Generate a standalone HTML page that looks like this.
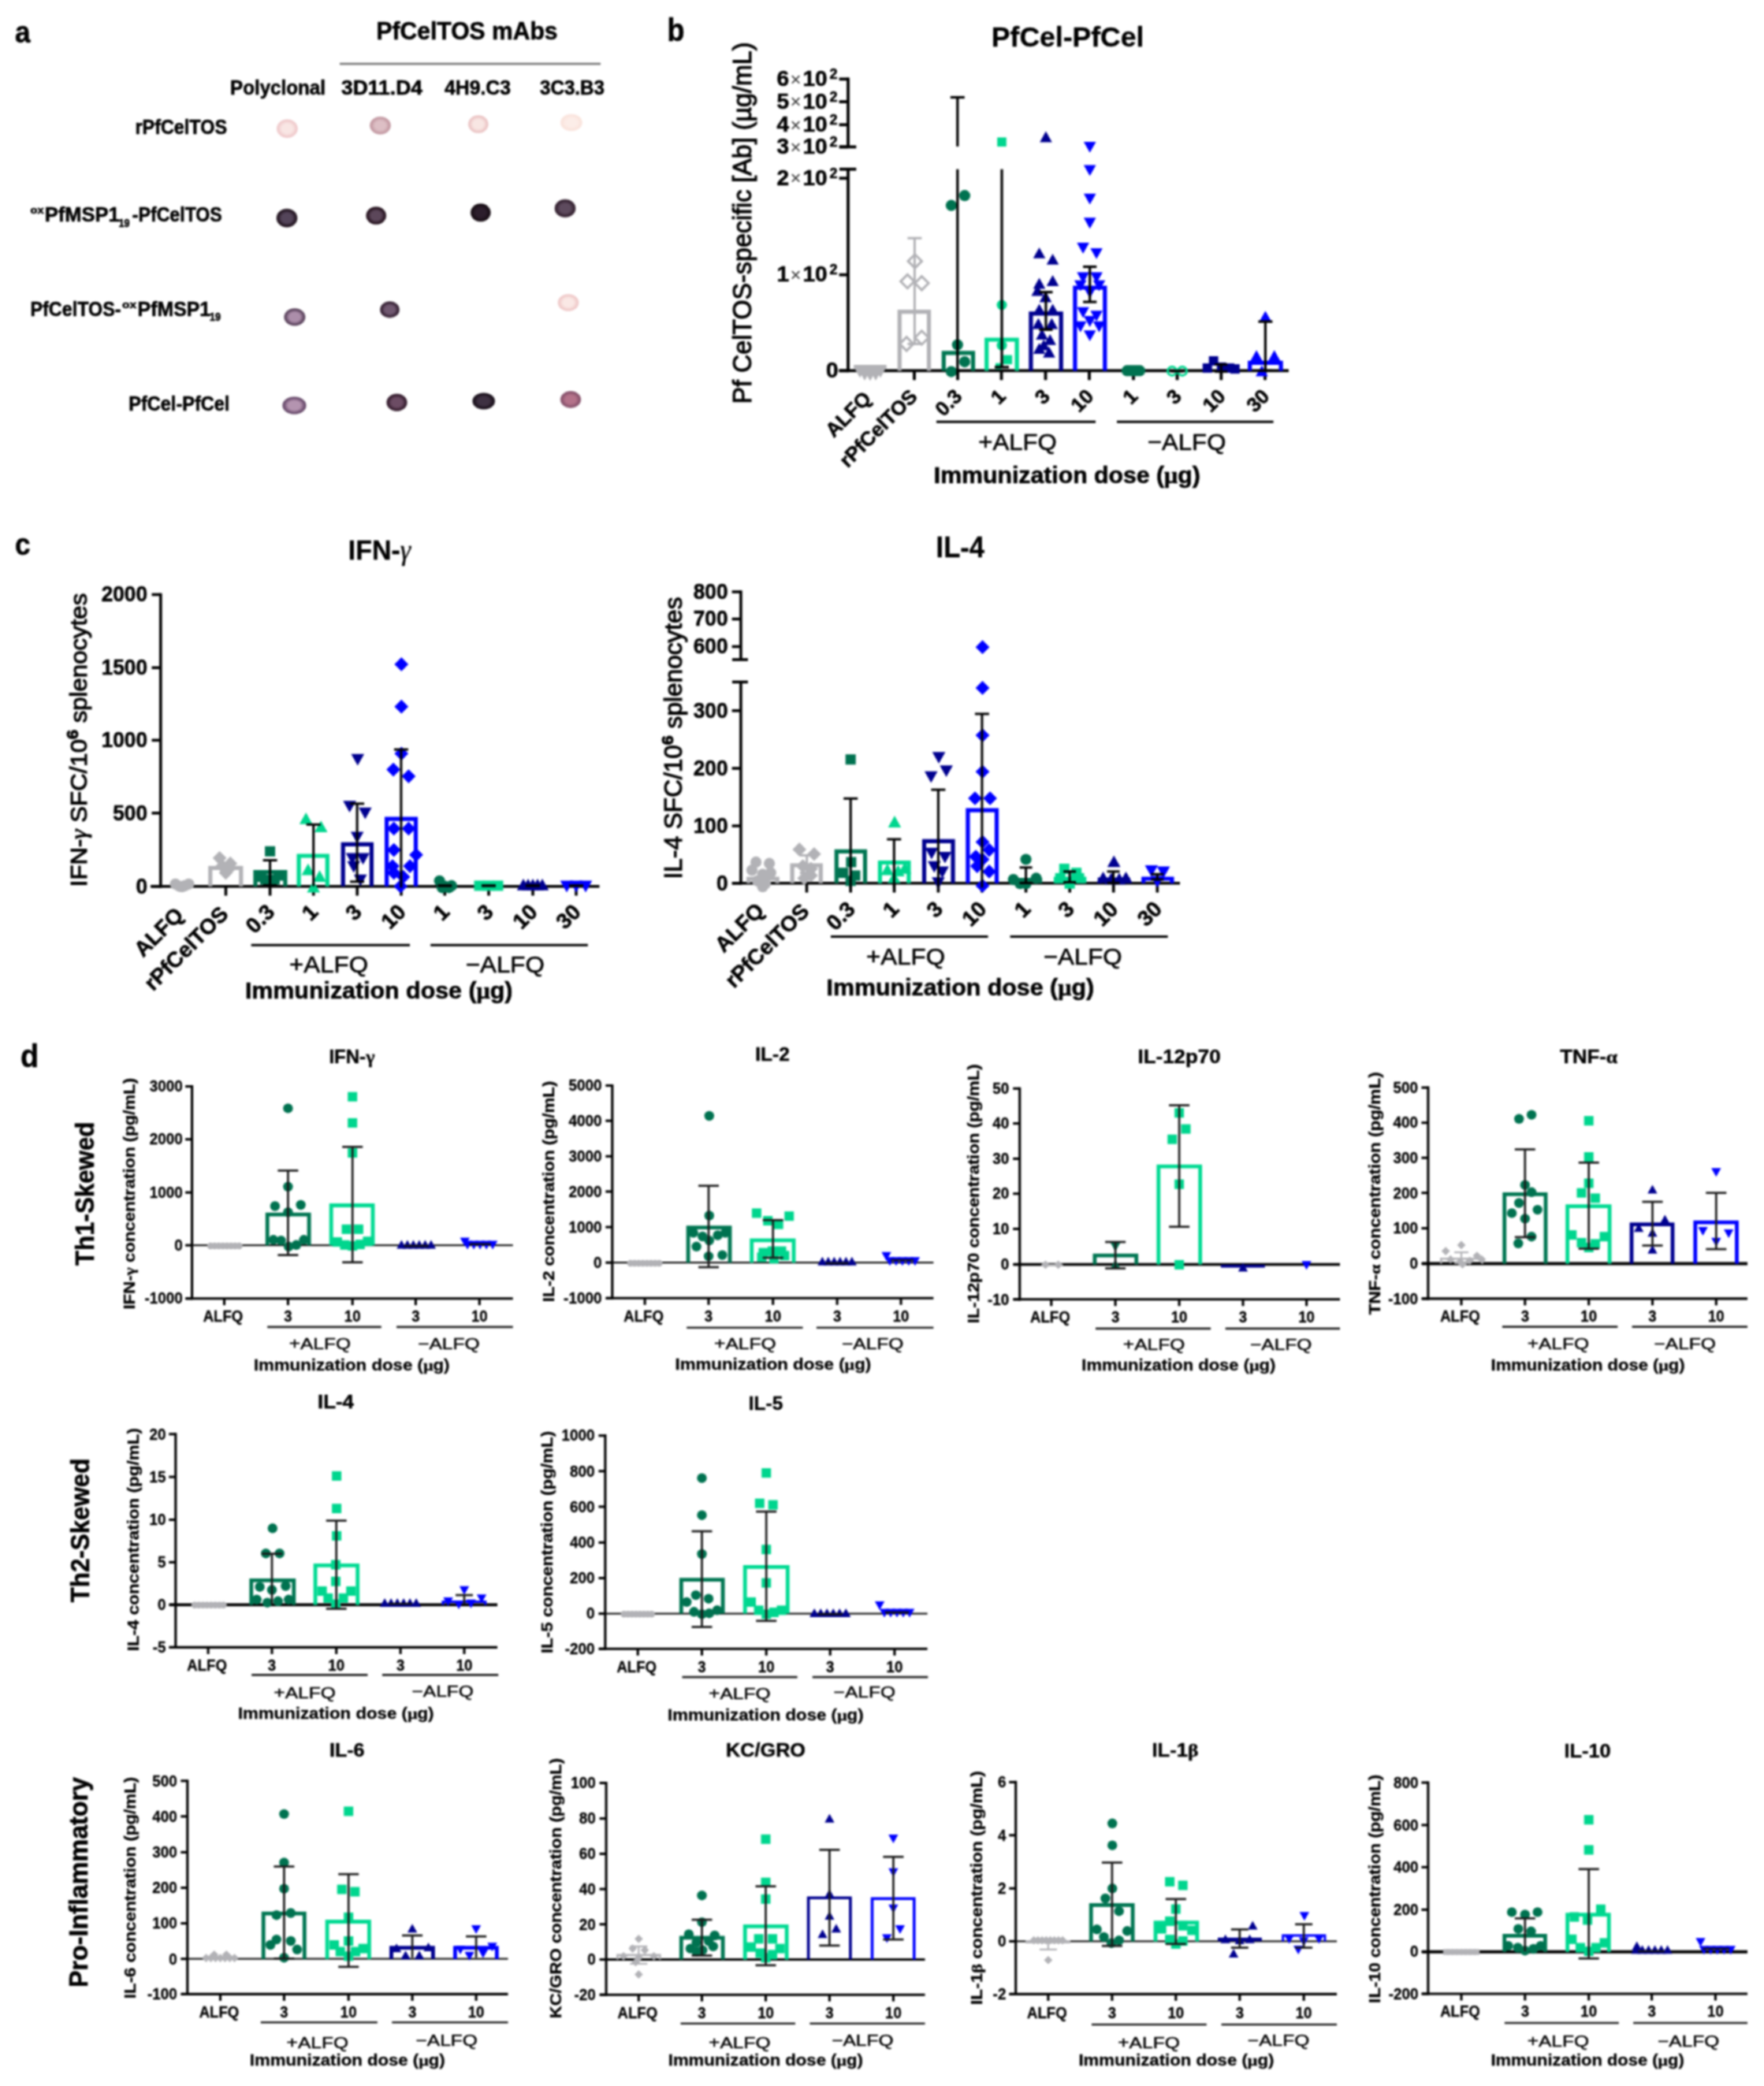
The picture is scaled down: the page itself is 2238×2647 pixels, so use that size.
<!DOCTYPE html>
<html lang="en"><head><meta charset="utf-8"><title>Figure</title>
<style>
html,body{margin:0;padding:0;background:#fff;}
body{width:2238px;height:2647px;overflow:hidden;}
svg{display:block;font-family:"Liberation Sans", sans-serif;filter:blur(0.9px);}
text{stroke:#000;}
</style></head><body>
<svg width="2238" height="2647" viewBox="0 0 2238 2647">
<rect width="2238" height="2647" fill="#fff"/>
<text x="19" y="54" font-size="39.5" text-anchor="start" fill="#000" font-weight="700" textLength="19.5" lengthAdjust="spacingAndGlyphs" stroke-width="0.55">a</text>
<text x="477.5" y="50" font-size="31" text-anchor="start" fill="#000" font-weight="700" textLength="230" lengthAdjust="spacingAndGlyphs" stroke-width="0.55">PfCelTOS mAbs</text>
<line x1="431" y1="81" x2="762" y2="81" stroke="#707070" stroke-width="2.6" stroke-linecap="butt"/>
<text x="292" y="119.5" font-size="25" text-anchor="start" fill="#000" font-weight="700" textLength="121" lengthAdjust="spacingAndGlyphs" stroke-width="0.55">Polyclonal</text>
<text x="433" y="119.5" font-size="25" text-anchor="start" fill="#000" font-weight="700" textLength="103" lengthAdjust="spacingAndGlyphs" stroke-width="0.55">3D11.D4</text>
<text x="564" y="119.5" font-size="25" text-anchor="start" fill="#000" font-weight="700" textLength="84" lengthAdjust="spacingAndGlyphs" stroke-width="0.55">4H9.C3</text>
<text x="685" y="119.5" font-size="25" text-anchor="start" fill="#000" font-weight="700" textLength="82" lengthAdjust="spacingAndGlyphs" stroke-width="0.55">3C3.B3</text>
<text x="171.5" y="170" font-size="25" text-anchor="start" fill="#000" font-weight="700" textLength="116.5" lengthAdjust="spacingAndGlyphs" stroke-width="0.55">rPfCelTOS</text>
<text x="38.5" y="270.5" font-size="13" text-anchor="start" fill="#000" font-weight="700" textLength="17" lengthAdjust="spacingAndGlyphs" stroke-width="0.55">ox</text>
<text x="56.7" y="281" font-size="25" text-anchor="start" fill="#000" font-weight="700" textLength="95" lengthAdjust="spacingAndGlyphs" stroke-width="0.55">PfMSP1</text>
<text x="150.5" y="287.5" font-size="14" text-anchor="start" fill="#000" font-weight="700" textLength="14" lengthAdjust="spacingAndGlyphs" stroke-width="0.55">19</text>
<text x="167.8" y="281" font-size="25" text-anchor="start" fill="#000" font-weight="700" textLength="114" lengthAdjust="spacingAndGlyphs" stroke-width="0.55">-PfCelTOS</text>
<text x="38.5" y="401" font-size="25" text-anchor="start" fill="#000" font-weight="700" textLength="115" lengthAdjust="spacingAndGlyphs" stroke-width="0.55">PfCelTOS-</text>
<text x="155" y="390.5" font-size="13" text-anchor="start" fill="#000" font-weight="700" textLength="18" lengthAdjust="spacingAndGlyphs" stroke-width="0.55">ox</text>
<text x="174.6" y="401" font-size="25" text-anchor="start" fill="#000" font-weight="700" textLength="92.5" lengthAdjust="spacingAndGlyphs" stroke-width="0.55">PfMSP1</text>
<text x="266" y="406.5" font-size="14" text-anchor="start" fill="#000" font-weight="700" textLength="14" lengthAdjust="spacingAndGlyphs" stroke-width="0.55">19</text>
<text x="163.3" y="520.5" font-size="25" text-anchor="start" fill="#000" font-weight="700" textLength="128" lengthAdjust="spacingAndGlyphs" stroke-width="0.55">PfCel-PfCel</text>
<ellipse cx="364.4" cy="163.2" rx="13.6" ry="12.1" fill="#EFC9CB" fill-opacity="0.45"/>
<ellipse cx="364.4" cy="163.2" rx="13" ry="11.5" fill="#EFC9CB"/>
<ellipse cx="364.4" cy="163.2" rx="11.4" ry="10.1" fill="#F2D0D1"/>
<ellipse cx="364.4" cy="163.2" rx="10.1" ry="9" fill="#F4D8D8"/>
<ellipse cx="364.4" cy="163.2" rx="8.8" ry="7.8" fill="#F6DFDE"/>
<ellipse cx="364.4" cy="163.2" rx="7.5" ry="6.7" fill="#F9E6E4"/>
<ellipse cx="482.5" cy="159.3" rx="13.6" ry="11.6" fill="#C399A2" fill-opacity="0.45"/>
<ellipse cx="482.5" cy="159.3" rx="13" ry="11" fill="#C399A2"/>
<ellipse cx="482.5" cy="159.3" rx="11.4" ry="9.7" fill="#CAA2AB"/>
<ellipse cx="482.5" cy="159.3" rx="10.1" ry="8.6" fill="#D0ACB4"/>
<ellipse cx="482.5" cy="159.3" rx="8.8" ry="7.5" fill="#D6B6BC"/>
<ellipse cx="482.5" cy="159.3" rx="7.5" ry="6.4" fill="#DDBFC5"/>
<ellipse cx="606.8" cy="157.6" rx="13.1" ry="11.6" fill="#EBC4C4" fill-opacity="0.45"/>
<ellipse cx="606.8" cy="157.6" rx="12.5" ry="11" fill="#EBC4C4"/>
<ellipse cx="606.8" cy="157.6" rx="11" ry="9.7" fill="#EECCCC"/>
<ellipse cx="606.8" cy="157.6" rx="9.8" ry="8.6" fill="#F2D5D4"/>
<ellipse cx="606.8" cy="157.6" rx="8.5" ry="7.5" fill="#F5DEDB"/>
<ellipse cx="606.8" cy="157.6" rx="7.2" ry="6.4" fill="#F8E6E3"/>
<ellipse cx="724.9" cy="155.5" rx="14.1" ry="11.1" fill="#FAE3DC" fill-opacity="0.45"/>
<ellipse cx="724.9" cy="155.5" rx="13.5" ry="10.5" fill="#FAE3DC"/>
<ellipse cx="724.9" cy="155.5" rx="11.9" ry="9.2" fill="#FAE6DF"/>
<ellipse cx="724.9" cy="155.5" rx="10.5" ry="8.2" fill="#FBE8E2"/>
<ellipse cx="724.9" cy="155.5" rx="9.2" ry="7.1" fill="#FCEAE5"/>
<ellipse cx="724.9" cy="155.5" rx="7.8" ry="6.1" fill="#FCEDE8"/>
<ellipse cx="364" cy="276.7" rx="13.6" ry="12.1" fill="#22141F" fill-opacity="0.45"/>
<ellipse cx="364" cy="276.7" rx="13" ry="11.5" fill="#22141F"/>
<ellipse cx="364" cy="276.7" rx="11.4" ry="10.1" fill="#2E202E"/>
<ellipse cx="364" cy="276.7" rx="10.1" ry="9" fill="#3B2C3C"/>
<ellipse cx="364" cy="276.7" rx="8.8" ry="7.8" fill="#48394B"/>
<ellipse cx="364" cy="276.7" rx="7.5" ry="6.7" fill="#54455A"/>
<ellipse cx="477.2" cy="273.6" rx="13.1" ry="11.6" fill="#26131F" fill-opacity="0.45"/>
<ellipse cx="477.2" cy="273.6" rx="12.5" ry="11" fill="#26131F"/>
<ellipse cx="477.2" cy="273.6" rx="11" ry="9.7" fill="#34202E"/>
<ellipse cx="477.2" cy="273.6" rx="9.8" ry="8.6" fill="#412D3C"/>
<ellipse cx="477.2" cy="273.6" rx="8.5" ry="7.5" fill="#4E3A4B"/>
<ellipse cx="477.2" cy="273.6" rx="7.2" ry="6.4" fill="#5C475A"/>
<ellipse cx="609.8" cy="269.8" rx="13.1" ry="11.8" fill="#170D14" fill-opacity="0.45"/>
<ellipse cx="609.8" cy="269.8" rx="12.5" ry="11.2" fill="#170D14"/>
<ellipse cx="609.8" cy="269.8" rx="11" ry="9.9" fill="#1C111A"/>
<ellipse cx="609.8" cy="269.8" rx="9.8" ry="8.7" fill="#221620"/>
<ellipse cx="609.8" cy="269.8" rx="8.5" ry="7.6" fill="#271A26"/>
<ellipse cx="609.8" cy="269.8" rx="7.2" ry="6.5" fill="#2C1E2C"/>
<ellipse cx="717" cy="264.4" rx="13.6" ry="11.8" fill="#33202F" fill-opacity="0.45"/>
<ellipse cx="717" cy="264.4" rx="13" ry="11.2" fill="#33202F"/>
<ellipse cx="717" cy="264.4" rx="11.4" ry="9.9" fill="#3E2B3B"/>
<ellipse cx="717" cy="264.4" rx="10.1" ry="8.7" fill="#483646"/>
<ellipse cx="717" cy="264.4" rx="8.8" ry="7.6" fill="#534052"/>
<ellipse cx="717" cy="264.4" rx="7.5" ry="6.5" fill="#5E4B5E"/>
<ellipse cx="373.9" cy="402.3" rx="13.8" ry="11.4" fill="#58405A" fill-opacity="0.45"/>
<ellipse cx="373.9" cy="402.3" rx="13.2" ry="10.8" fill="#58405A"/>
<ellipse cx="373.9" cy="402.3" rx="11.6" ry="9.5" fill="#6D546E"/>
<ellipse cx="373.9" cy="402.3" rx="10.3" ry="8.4" fill="#826782"/>
<ellipse cx="373.9" cy="402.3" rx="9" ry="7.3" fill="#977A96"/>
<ellipse cx="373.9" cy="402.3" rx="7.7" ry="6.3" fill="#AC8EAA"/>
<ellipse cx="494.5" cy="392.9" rx="12.6" ry="10.8" fill="#321E30" fill-opacity="0.45"/>
<ellipse cx="494.5" cy="392.9" rx="12" ry="10.2" fill="#321E30"/>
<ellipse cx="494.5" cy="392.9" rx="10.6" ry="9" fill="#422C40"/>
<ellipse cx="494.5" cy="392.9" rx="9.4" ry="8" fill="#513B50"/>
<ellipse cx="494.5" cy="392.9" rx="8.2" ry="6.9" fill="#604A60"/>
<ellipse cx="494.5" cy="392.9" rx="7" ry="5.9" fill="#705870"/>
<ellipse cx="721" cy="384" rx="13.6" ry="11.1" fill="#EFC8C8" fill-opacity="0.45"/>
<ellipse cx="721" cy="384" rx="13" ry="10.5" fill="#EFC8C8"/>
<ellipse cx="721" cy="384" rx="11.4" ry="9.2" fill="#F2D0CF"/>
<ellipse cx="721" cy="384" rx="10.1" ry="8.2" fill="#F4D8D6"/>
<ellipse cx="721" cy="384" rx="8.8" ry="7.1" fill="#F7E0DE"/>
<ellipse cx="721" cy="384" rx="7.5" ry="6.1" fill="#FAE8E5"/>
<ellipse cx="373.4" cy="514.5" rx="15.4" ry="11.4" fill="#67496A" fill-opacity="0.45"/>
<ellipse cx="373.4" cy="514.5" rx="14.8" ry="10.8" fill="#67496A"/>
<ellipse cx="373.4" cy="514.5" rx="13" ry="9.5" fill="#7A5C7C"/>
<ellipse cx="373.4" cy="514.5" rx="11.5" ry="8.4" fill="#8E6E8D"/>
<ellipse cx="373.4" cy="514.5" rx="10.1" ry="7.3" fill="#A1819E"/>
<ellipse cx="373.4" cy="514.5" rx="8.6" ry="6.3" fill="#B494B0"/>
<ellipse cx="503.5" cy="510.7" rx="13.4" ry="11.4" fill="#331B2C" fill-opacity="0.45"/>
<ellipse cx="503.5" cy="510.7" rx="12.8" ry="10.8" fill="#331B2C"/>
<ellipse cx="503.5" cy="510.7" rx="11.3" ry="9.5" fill="#41273A"/>
<ellipse cx="503.5" cy="510.7" rx="10" ry="8.4" fill="#503448"/>
<ellipse cx="503.5" cy="510.7" rx="8.7" ry="7.3" fill="#5E4056"/>
<ellipse cx="503.5" cy="510.7" rx="7.4" ry="6.3" fill="#6C4C64"/>
<ellipse cx="613.7" cy="509" rx="14.6" ry="10.8" fill="#19101A" fill-opacity="0.45"/>
<ellipse cx="613.7" cy="509" rx="14" ry="10.2" fill="#19101A"/>
<ellipse cx="613.7" cy="509" rx="12.3" ry="9" fill="#221824"/>
<ellipse cx="613.7" cy="509" rx="10.9" ry="8" fill="#2C202E"/>
<ellipse cx="613.7" cy="509" rx="9.5" ry="6.9" fill="#352938"/>
<ellipse cx="613.7" cy="509" rx="8.1" ry="5.9" fill="#3E3142"/>
<ellipse cx="724" cy="507" rx="13.4" ry="11" fill="#85506A" fill-opacity="0.45"/>
<ellipse cx="724" cy="507" rx="12.8" ry="10.4" fill="#85506A"/>
<ellipse cx="724" cy="507" rx="11.3" ry="9.2" fill="#915872"/>
<ellipse cx="724" cy="507" rx="10" ry="8.1" fill="#9C617A"/>
<ellipse cx="724" cy="507" rx="8.7" ry="7.1" fill="#A86A82"/>
<ellipse cx="724" cy="507" rx="7.4" ry="6" fill="#B4728A"/>
<text x="846.5" y="52" font-size="41" text-anchor="start" fill="#000" font-weight="700" textLength="22" lengthAdjust="spacingAndGlyphs" stroke-width="0.55">b</text>
<line x1="1076" y1="98.4" x2="1076" y2="186.4" stroke="#000" stroke-width="3.8" stroke-linecap="butt"/>
<line x1="1076" y1="214.7" x2="1076" y2="472.3" stroke="#000" stroke-width="3.8" stroke-linecap="butt"/>
<line x1="1065" y1="186.4" x2="1086.3" y2="186.4" stroke="#000" stroke-width="3.8" stroke-linecap="butt"/>
<line x1="1065" y1="214.7" x2="1086.3" y2="214.7" stroke="#000" stroke-width="3.8" stroke-linecap="butt"/>
<line x1="1064.6" y1="100.3" x2="1076" y2="100.3" stroke="#000" stroke-width="3.8" stroke-linecap="butt"/>
<text font-weight="700" font-size="28" fill="#000" stroke-width="0.55" y="108.8"><tspan x="985.4">6</tspan><tspan x="1002.6" font-weight="400" font-size="24" fill="#3a3a3a" stroke="none" dy="-0.3">×</tspan><tspan x="1018.5" dy="0.3">10</tspan><tspan x="1052.6" dy="-9" font-size="18">2</tspan></text>
<line x1="1064.6" y1="129.1" x2="1076" y2="129.1" stroke="#000" stroke-width="3.8" stroke-linecap="butt"/>
<text font-weight="700" font-size="28" fill="#000" stroke-width="0.55" y="137.6"><tspan x="985.4">5</tspan><tspan x="1002.6" font-weight="400" font-size="24" fill="#3a3a3a" stroke="none" dy="-0.3">×</tspan><tspan x="1018.5" dy="0.3">10</tspan><tspan x="1052.6" dy="-9" font-size="18">2</tspan></text>
<line x1="1064.6" y1="158.3" x2="1076" y2="158.3" stroke="#000" stroke-width="3.8" stroke-linecap="butt"/>
<text font-weight="700" font-size="28" fill="#000" stroke-width="0.55" y="166.8"><tspan x="985.4">4</tspan><tspan x="1002.6" font-weight="400" font-size="24" fill="#3a3a3a" stroke="none" dy="-0.3">×</tspan><tspan x="1018.5" dy="0.3">10</tspan><tspan x="1052.6" dy="-9" font-size="18">2</tspan></text>
<line x1="1064.6" y1="186.4" x2="1076" y2="186.4" stroke="#000" stroke-width="3.8" stroke-linecap="butt"/>
<text font-weight="700" font-size="28" fill="#000" stroke-width="0.55" y="194.9"><tspan x="985.4">3</tspan><tspan x="1002.6" font-weight="400" font-size="24" fill="#3a3a3a" stroke="none" dy="-0.3">×</tspan><tspan x="1018.5" dy="0.3">10</tspan><tspan x="1052.6" dy="-9" font-size="18">2</tspan></text>
<line x1="1064.6" y1="226.2" x2="1076" y2="226.2" stroke="#000" stroke-width="3.8" stroke-linecap="butt"/>
<text font-weight="700" font-size="28" fill="#000" stroke-width="0.55" y="234.7"><tspan x="985.4">2</tspan><tspan x="1002.6" font-weight="400" font-size="24" fill="#3a3a3a" stroke="none" dy="-0.3">×</tspan><tspan x="1018.5" dy="0.3">10</tspan><tspan x="1052.6" dy="-9" font-size="18">2</tspan></text>
<line x1="1064.6" y1="348.7" x2="1076" y2="348.7" stroke="#000" stroke-width="3.8" stroke-linecap="butt"/>
<text font-weight="700" font-size="28" fill="#000" stroke-width="0.55" y="357.2"><tspan x="985.4">1</tspan><tspan x="1002.6" font-weight="400" font-size="24" fill="#3a3a3a" stroke="none" dy="-0.3">×</tspan><tspan x="1018.5" dy="0.3">10</tspan><tspan x="1052.6" dy="-9" font-size="18">2</tspan></text>
<line x1="1064.6" y1="470.4" x2="1076" y2="470.4" stroke="#000" stroke-width="3.8" stroke-linecap="butt"/>
<text x="1063.5" y="478.9" font-size="28" text-anchor="end" fill="#000" font-weight="700" stroke-width="0.55">0</text>
<line x1="1064.5" y1="470.4" x2="1635" y2="470.4" stroke="#000" stroke-width="3.8" stroke-linecap="butt"/>
<line x1="1160" y1="470.4" x2="1160" y2="482.3" stroke="#000" stroke-width="3.8" stroke-linecap="butt"/>
<line x1="1215" y1="470.4" x2="1215" y2="482.3" stroke="#000" stroke-width="3.8" stroke-linecap="butt"/>
<line x1="1270.5" y1="470.4" x2="1270.5" y2="482.3" stroke="#000" stroke-width="3.8" stroke-linecap="butt"/>
<line x1="1326.5" y1="470.4" x2="1326.5" y2="482.3" stroke="#000" stroke-width="3.8" stroke-linecap="butt"/>
<line x1="1382" y1="470.4" x2="1382" y2="482.3" stroke="#000" stroke-width="3.8" stroke-linecap="butt"/>
<line x1="1438" y1="470.4" x2="1438" y2="482.3" stroke="#000" stroke-width="3.8" stroke-linecap="butt"/>
<line x1="1493.5" y1="470.4" x2="1493.5" y2="482.3" stroke="#000" stroke-width="3.8" stroke-linecap="butt"/>
<line x1="1549.3" y1="470.4" x2="1549.3" y2="482.3" stroke="#000" stroke-width="3.8" stroke-linecap="butt"/>
<line x1="1605" y1="470.4" x2="1605" y2="482.3" stroke="#000" stroke-width="3.8" stroke-linecap="butt"/>
<text x="1106.8" y="507.2" font-size="25.5" text-anchor="end" fill="#000" font-weight="700" transform="rotate(-45 1106.8 507.2)" stroke-width="0.55">ALFQ</text>
<text x="1165.3" y="504.7" font-size="25.5" text-anchor="end" fill="#000" font-weight="700" transform="rotate(-45 1165.3 504.7)" stroke-width="0.55">rPfCelTOS</text>
<text x="1222" y="504.4" font-size="25.5" text-anchor="end" fill="#000" font-weight="700" transform="rotate(-45 1222 504.4)" stroke-width="0.55">0.3</text>
<text x="1277.5" y="504.4" font-size="25.5" text-anchor="end" fill="#000" font-weight="700" transform="rotate(-45 1277.5 504.4)" stroke-width="0.55">1</text>
<text x="1333.5" y="504.4" font-size="25.5" text-anchor="end" fill="#000" font-weight="700" transform="rotate(-45 1333.5 504.4)" stroke-width="0.55">3</text>
<text x="1389" y="504.4" font-size="25.5" text-anchor="end" fill="#000" font-weight="700" transform="rotate(-45 1389 504.4)" stroke-width="0.55">10</text>
<text x="1445" y="504.4" font-size="25.5" text-anchor="end" fill="#000" font-weight="700" transform="rotate(-45 1445 504.4)" stroke-width="0.55">1</text>
<text x="1500.5" y="504.4" font-size="25.5" text-anchor="end" fill="#000" font-weight="700" transform="rotate(-45 1500.5 504.4)" stroke-width="0.55">3</text>
<text x="1556.3" y="504.4" font-size="25.5" text-anchor="end" fill="#000" font-weight="700" transform="rotate(-45 1556.3 504.4)" stroke-width="0.55">10</text>
<text x="1612" y="504.4" font-size="25.5" text-anchor="end" fill="#000" font-weight="700" transform="rotate(-45 1612 504.4)" stroke-width="0.55">30</text>
<line x1="1188" y1="535.3" x2="1390" y2="535.3" stroke="#000" stroke-width="3" stroke-linecap="butt"/>
<line x1="1417" y1="535.3" x2="1615.6" y2="535.3" stroke="#000" stroke-width="3" stroke-linecap="butt"/>
<text x="1291" y="570.5" font-size="30" text-anchor="middle" fill="#000" textLength="99.5" lengthAdjust="spacingAndGlyphs" stroke-width="0.55">+ALFQ</text>
<text x="1505.6" y="570.5" font-size="30" text-anchor="middle" fill="#000" textLength="99.5" lengthAdjust="spacingAndGlyphs" stroke-width="0.55">−ALFQ</text>
<text x="1353.8" y="612.8" font-size="29.5" text-anchor="middle" fill="#000" font-weight="700" textLength="338" lengthAdjust="spacingAndGlyphs" stroke-width="0.55">Immunization dose (<tspan font-family='"Liberation Serif", serif'>μ</tspan>g)</text>
<text x="953" y="283" font-size="33" text-anchor="middle" fill="#000" textLength="459" lengthAdjust="spacingAndGlyphs" transform="rotate(-90 953 283)" stroke-width="1.0">Pf CelTOS-specific [Ab] (µg/mL)</text>
<text x="1354.6" y="59.4" font-size="35.3" text-anchor="middle" fill="#000" font-weight="700" textLength="193.5" lengthAdjust="spacingAndGlyphs" stroke-width="0.3">PfCel-PfCel</text>
<path d="M1141.3 470.4V395.6H1178.5V470.4" fill="none" stroke="#B2B2B6" stroke-width="5.2" stroke-linejoin="miter"/>
<path d="M1197.3 470.4V447.8H1234.5V470.4" fill="none" stroke="#007652" stroke-width="5.2" stroke-linejoin="miter"/>
<path d="M1251.7 470.4V431H1290.1V470.4" fill="none" stroke="#00DA92" stroke-width="5.2" stroke-linejoin="miter"/>
<path d="M1307.9 470.4V397.9H1346.2V470.4" fill="none" stroke="#00008F" stroke-width="5.2" stroke-linejoin="miter"/>
<path d="M1363.9 470.4V365H1401.8V470.4" fill="none" stroke="#0000FF" stroke-width="5.2" stroke-linejoin="miter"/>
<path d="M1585.7 470.4V460.3H1625.1V470.4" fill="none" stroke="#0000FF" stroke-width="5.2" stroke-linejoin="miter"/>
<rect x="1083.3" y="463" width="41.3" height="5" fill="#B2B2B6"/>
<path d="M1082.8 464.8L1099.2 464.8L1091 479.4Z" fill="#B2B2B6"/>
<path d="M1089.3 464.8L1105.7 464.8L1097.5 479.4Z" fill="#B2B2B6"/>
<path d="M1095.8 464.8L1112.2 464.8L1104 479.4Z" fill="#B2B2B6"/>
<path d="M1102.3 464.8L1118.7 464.8L1110.5 479.4Z" fill="#B2B2B6"/>
<path d="M1108.8 464.8L1125.2 464.8L1117 479.4Z" fill="#B2B2B6"/>
<path d="M1088.8 468.3L1105.2 468.3L1097 482.9Z" fill="#B2B2B6"/>
<path d="M1095.8 468.8L1112.2 468.8L1104 483.4Z" fill="#B2B2B6"/>
<path d="M1102.8 468.3L1119.2 468.3L1111 482.9Z" fill="#B2B2B6"/>
<line x1="1160.4" y1="302.2" x2="1160.4" y2="436.4" stroke="#B2B2B6" stroke-width="3" stroke-linecap="butt"/>
<line x1="1151.4" y1="302.2" x2="1169.4" y2="302.2" stroke="#B2B2B6" stroke-width="3" stroke-linecap="butt"/>
<line x1="1151.4" y1="436.4" x2="1169.4" y2="436.4" stroke="#B2B2B6" stroke-width="3" stroke-linecap="butt"/>
<path d="M1152.1 331.4L1160.8 322.8L1169.5 331.4L1160.8 340.1Z" fill="#fff" fill-opacity="0.0" stroke="#B2B2B6" stroke-width="3"/>
<path d="M1142.6 357.1L1151.3 348.4L1160 357.1L1151.3 365.7Z" fill="#fff" fill-opacity="0.0" stroke="#B2B2B6" stroke-width="3"/>
<path d="M1160.8 359.3L1169.4 350.6L1178.1 359.3L1169.4 368Z" fill="#fff" fill-opacity="0.0" stroke="#B2B2B6" stroke-width="3"/>
<path d="M1141.5 436.4L1150.2 427.7L1158.8 436.4L1150.2 445.1Z" fill="#fff" fill-opacity="0.0" stroke="#B2B2B6" stroke-width="3"/>
<path d="M1160.8 428.5L1169.4 419.8L1178.1 428.5L1169.4 437.2Z" fill="#fff" fill-opacity="0.0" stroke="#B2B2B6" stroke-width="3"/>
<circle cx="1206.9" cy="260.7" r="7.1" fill="#007250"/>
<circle cx="1223.9" cy="248.2" r="7.1" fill="#007250"/>
<circle cx="1214.8" cy="437.6" r="7.1" fill="#007250"/>
<circle cx="1223.9" cy="459.1" r="7.1" fill="#007250"/>
<circle cx="1206.9" cy="471.6" r="7.1" fill="#007250"/>
<line x1="1214.8" y1="123.5" x2="1214.8" y2="185.9" stroke="#000" stroke-width="3.2" stroke-linecap="butt"/>
<line x1="1205.8" y1="123.5" x2="1223.8" y2="123.5" stroke="#000" stroke-width="3.2" stroke-linecap="butt"/>
<line x1="1214.8" y1="214.7" x2="1214.8" y2="476.1" stroke="#000" stroke-width="3.2" stroke-linecap="butt"/>
<rect x="1265.2" y="174.4" width="11.6" height="11.6" fill="#00D68E"/>
<circle cx="1271" cy="387" r="6.5" fill="#00D68E"/>
<circle cx="1271" cy="438.2" r="6.5" fill="#00D68E"/>
<rect x="1272.5" y="450.6" width="11.6" height="11.6" fill="#00D68E"/>
<rect x="1263" y="460.8" width="7.8" height="7.8" fill="#00D68E"/>
<line x1="1271" y1="214.7" x2="1271" y2="465.9" stroke="#000" stroke-width="3.2" stroke-linecap="butt"/>
<line x1="1262" y1="465.9" x2="1280" y2="465.9" stroke="#000" stroke-width="3.2" stroke-linecap="butt"/>
<path d="M1319.2 180.4L1334.7 180.4L1326.9 166.5Z" fill="#00008F"/>
<path d="M1310.8 327.8L1326.3 327.8L1318.5 313.9Z" fill="#00008F"/>
<path d="M1327.8 335.7L1343.3 335.7L1335.6 321.9Z" fill="#00008F"/>
<path d="M1310.8 366.4L1326.3 366.4L1318.5 352.5Z" fill="#00008F"/>
<path d="M1327.8 363L1343.3 363L1335.6 349.1Z" fill="#00008F"/>
<path d="M1308.5 375.4L1324.1 375.4L1316.3 361.5Z" fill="#00008F"/>
<path d="M1318.7 383.4L1334.3 383.4L1326.5 369.5Z" fill="#00008F"/>
<path d="M1310.8 399.2L1326.3 399.2L1318.5 385.4Z" fill="#00008F"/>
<path d="M1327.8 399.2L1343.3 399.2L1335.6 385.4Z" fill="#00008F"/>
<path d="M1309.6 417.4L1325.2 417.4L1317.4 403.5Z" fill="#00008F"/>
<path d="M1326.6 417.4L1342.2 417.4L1334.4 403.5Z" fill="#00008F"/>
<path d="M1314.2 431L1329.7 431L1322 417.1Z" fill="#00008F"/>
<path d="M1324.4 437.8L1339.9 437.8L1332.2 423.9Z" fill="#00008F"/>
<path d="M1310.8 449.1L1326.3 449.1L1318.5 435.2Z" fill="#00008F"/>
<path d="M1323.2 453.7L1338.8 453.7L1331 439.8Z" fill="#00008F"/>
<path d="M1316.4 444.6L1332 444.6L1324.2 430.7Z" fill="#00008F"/>
<line x1="1326.9" y1="370.7" x2="1326.9" y2="418.3" stroke="#000" stroke-width="3.2" stroke-linecap="butt"/>
<line x1="1318.3" y1="370.7" x2="1335.5" y2="370.7" stroke="#000" stroke-width="3.2" stroke-linecap="butt"/>
<line x1="1318.3" y1="418.3" x2="1335.5" y2="418.3" stroke="#000" stroke-width="3.2" stroke-linecap="butt"/>
<path d="M1374.9 179.9L1390.5 179.9L1382.7 193.8Z" fill="#0000FF"/>
<path d="M1374.9 209.4L1390.5 209.4L1382.7 223.3Z" fill="#0000FF"/>
<path d="M1374.9 245.7L1390.5 245.7L1382.7 259.6Z" fill="#0000FF"/>
<path d="M1374.9 276.3L1390.5 276.3L1382.7 290.2Z" fill="#0000FF"/>
<path d="M1366.3 308.1L1381.9 308.1L1374.1 322Z" fill="#0000FF"/>
<path d="M1383.3 314.9L1398.9 314.9L1391.1 328.8Z" fill="#0000FF"/>
<path d="M1366.3 345.5L1381.9 345.5L1374.1 359.4Z" fill="#0000FF"/>
<path d="M1383.3 345.5L1398.9 345.5L1391.1 359.4Z" fill="#0000FF"/>
<path d="M1362.9 355.7L1378.5 355.7L1370.7 369.6Z" fill="#0000FF"/>
<path d="M1386.7 355.7L1402.3 355.7L1394.5 369.6Z" fill="#0000FF"/>
<path d="M1374.9 364.8L1390.5 364.8L1382.7 378.6Z" fill="#0000FF"/>
<path d="M1366.3 389.7L1381.9 389.7L1374.1 403.6Z" fill="#0000FF"/>
<path d="M1383.3 394.2L1398.9 394.2L1391.1 408.1Z" fill="#0000FF"/>
<path d="M1374.9 401L1390.5 401L1382.7 414.9Z" fill="#0000FF"/>
<path d="M1362.9 407.8L1378.5 407.8L1370.7 421.7Z" fill="#0000FF"/>
<path d="M1386.7 407.8L1402.3 407.8L1394.5 421.7Z" fill="#0000FF"/>
<path d="M1374.9 419.2L1390.5 419.2L1382.7 433.1Z" fill="#0000FF"/>
<line x1="1382.7" y1="338.5" x2="1382.7" y2="383.1" stroke="#000" stroke-width="3.2" stroke-linecap="butt"/>
<line x1="1374.1" y1="338.5" x2="1391.3" y2="338.5" stroke="#000" stroke-width="3.2" stroke-linecap="butt"/>
<line x1="1374.1" y1="383.1" x2="1391.3" y2="383.1" stroke="#000" stroke-width="3.2" stroke-linecap="butt"/>
<circle cx="1430" cy="470.4" r="7.1" fill="#007250"/>
<circle cx="1438" cy="470.4" r="7.1" fill="#007250"/>
<circle cx="1446" cy="470.4" r="7.1" fill="#007250"/>
<circle cx="1434" cy="470.4" r="7.1" fill="#007250"/>
<circle cx="1442" cy="470.4" r="7.1" fill="#007250"/>
<circle cx="1487" cy="470.9" r="5.5" fill="none" stroke="#00D68E" stroke-width="3"/>
<circle cx="1500" cy="470.9" r="5.5" fill="none" stroke="#00D68E" stroke-width="3"/>
<line x1="1485.5" y1="470.9" x2="1501.5" y2="470.9" stroke="#000" stroke-width="3.5" stroke-linecap="butt"/>
<rect x="1533.7" y="452" width="11.9" height="11.9" fill="#00008F"/>
<rect x="1525.8" y="461.1" width="11.9" height="11.9" fill="#00008F"/>
<rect x="1543.9" y="460" width="11.9" height="11.9" fill="#00008F"/>
<rect x="1554.1" y="461.1" width="11.9" height="11.9" fill="#00008F"/>
<rect x="1560.9" y="462.2" width="11.9" height="11.9" fill="#00008F"/>
<line x1="1549.2" y1="462.5" x2="1549.2" y2="471.6" stroke="#000" stroke-width="3" stroke-linecap="butt"/>
<line x1="1541.2" y1="462.5" x2="1557.2" y2="462.5" stroke="#000" stroke-width="3" stroke-linecap="butt"/>
<line x1="1541.2" y1="471.6" x2="1557.2" y2="471.6" stroke="#000" stroke-width="3" stroke-linecap="butt"/>
<path d="M1597.6 408.3L1613.2 408.3L1605.4 394.4Z" fill="#0000FF"/>
<path d="M1586.3 458.2L1601.8 458.2L1594.1 444.3Z" fill="#0000FF"/>
<path d="M1609 458.2L1624.5 458.2L1616.7 444.3Z" fill="#0000FF"/>
<path d="M1593.1 477.5L1608.6 477.5L1600.9 463.6Z" fill="#0000FF"/>
<line x1="1605.4" y1="408.1" x2="1605.4" y2="470.4" stroke="#000" stroke-width="3.2" stroke-linecap="butt"/>
<line x1="1596.4" y1="408.1" x2="1614.4" y2="408.1" stroke="#000" stroke-width="3.2" stroke-linecap="butt"/>
<line x1="1596.4" y1="470.4" x2="1614.4" y2="470.4" stroke="#000" stroke-width="3.2" stroke-linecap="butt"/>
<text x="19" y="704" font-size="39.5" text-anchor="start" fill="#000" font-weight="700" textLength="19.5" lengthAdjust="spacingAndGlyphs" stroke-width="0.55">c</text>
<line x1="203.8" y1="752.7" x2="203.8" y2="1126.5" stroke="#000" stroke-width="3.6" stroke-linecap="butt"/>
<line x1="192.5" y1="754.5" x2="203.8" y2="754.5" stroke="#000" stroke-width="3.6" stroke-linecap="butt"/>
<text x="187" y="763.2" font-size="28.3" text-anchor="end" fill="#000" font-weight="700" textLength="58.3" lengthAdjust="spacingAndGlyphs" stroke-width="0.55">2000</text>
<line x1="192.5" y1="847.3" x2="203.8" y2="847.3" stroke="#000" stroke-width="3.6" stroke-linecap="butt"/>
<text x="187" y="856" font-size="28.3" text-anchor="end" fill="#000" font-weight="700" textLength="58.3" lengthAdjust="spacingAndGlyphs" stroke-width="0.55">1500</text>
<line x1="192.5" y1="939.3" x2="203.8" y2="939.3" stroke="#000" stroke-width="3.6" stroke-linecap="butt"/>
<text x="187" y="948" font-size="28.3" text-anchor="end" fill="#000" font-weight="700" textLength="58.3" lengthAdjust="spacingAndGlyphs" stroke-width="0.55">1000</text>
<line x1="192.5" y1="1031.8" x2="203.8" y2="1031.8" stroke="#000" stroke-width="3.6" stroke-linecap="butt"/>
<text x="187" y="1040.5" font-size="28.3" text-anchor="end" fill="#000" font-weight="700" textLength="43.7" lengthAdjust="spacingAndGlyphs" stroke-width="0.55">500</text>
<line x1="192.5" y1="1124.7" x2="203.8" y2="1124.7" stroke="#000" stroke-width="3.6" stroke-linecap="butt"/>
<text x="187" y="1133.5" font-size="28.3" text-anchor="end" fill="#000" font-weight="700" textLength="14.6" lengthAdjust="spacingAndGlyphs" stroke-width="0.55">0</text>
<line x1="191" y1="1124.7" x2="760.5" y2="1124.7" stroke="#000" stroke-width="3.6" stroke-linecap="butt"/>
<line x1="286.5" y1="1124.7" x2="286.5" y2="1136.5" stroke="#000" stroke-width="3.6" stroke-linecap="butt"/>
<line x1="342.6" y1="1124.7" x2="342.6" y2="1136.5" stroke="#000" stroke-width="3.6" stroke-linecap="butt"/>
<line x1="397.7" y1="1124.7" x2="397.7" y2="1136.5" stroke="#000" stroke-width="3.6" stroke-linecap="butt"/>
<line x1="453.2" y1="1124.7" x2="453.2" y2="1136.5" stroke="#000" stroke-width="3.6" stroke-linecap="butt"/>
<line x1="509" y1="1124.7" x2="509" y2="1136.5" stroke="#000" stroke-width="3.6" stroke-linecap="butt"/>
<line x1="564.3" y1="1124.7" x2="564.3" y2="1136.5" stroke="#000" stroke-width="3.6" stroke-linecap="butt"/>
<line x1="620" y1="1124.7" x2="620" y2="1136.5" stroke="#000" stroke-width="3.6" stroke-linecap="butt"/>
<line x1="676" y1="1124.7" x2="676" y2="1136.5" stroke="#000" stroke-width="3.6" stroke-linecap="butt"/>
<line x1="731" y1="1124.7" x2="731" y2="1136.5" stroke="#000" stroke-width="3.6" stroke-linecap="butt"/>
<text x="234.4" y="1162.9" font-size="27.5" text-anchor="end" fill="#000" font-weight="700" transform="rotate(-45 234.4 1162.9)" stroke-width="0.55">ALFQ</text>
<text x="291.2" y="1161.6" font-size="27.5" text-anchor="end" fill="#000" font-weight="700" transform="rotate(-45 291.2 1161.6)" stroke-width="0.55">rPfCelTOS</text>
<text x="350.1" y="1158.9" font-size="27.5" text-anchor="end" fill="#000" font-weight="700" transform="rotate(-45 350.1 1158.9)" stroke-width="0.55">0.3</text>
<text x="405.2" y="1158.9" font-size="27.5" text-anchor="end" fill="#000" font-weight="700" transform="rotate(-45 405.2 1158.9)" stroke-width="0.55">1</text>
<text x="460.7" y="1158.9" font-size="27.5" text-anchor="end" fill="#000" font-weight="700" transform="rotate(-45 460.7 1158.9)" stroke-width="0.55">3</text>
<text x="516.5" y="1158.9" font-size="27.5" text-anchor="end" fill="#000" font-weight="700" transform="rotate(-45 516.5 1158.9)" stroke-width="0.55">10</text>
<text x="571.8" y="1158.9" font-size="27.5" text-anchor="end" fill="#000" font-weight="700" transform="rotate(-45 571.8 1158.9)" stroke-width="0.55">1</text>
<text x="627.5" y="1158.9" font-size="27.5" text-anchor="end" fill="#000" font-weight="700" transform="rotate(-45 627.5 1158.9)" stroke-width="0.55">3</text>
<text x="683.5" y="1158.9" font-size="27.5" text-anchor="end" fill="#000" font-weight="700" transform="rotate(-45 683.5 1158.9)" stroke-width="0.55">10</text>
<text x="738.5" y="1158.9" font-size="27.5" text-anchor="end" fill="#000" font-weight="700" transform="rotate(-45 738.5 1158.9)" stroke-width="0.55">30</text>
<line x1="318.7" y1="1199.2" x2="520" y2="1199.2" stroke="#000" stroke-width="3" stroke-linecap="butt"/>
<line x1="546.2" y1="1199.2" x2="745.8" y2="1199.2" stroke="#000" stroke-width="3" stroke-linecap="butt"/>
<text x="417" y="1233.7" font-size="29.5" text-anchor="middle" fill="#000" textLength="100" lengthAdjust="spacingAndGlyphs" stroke-width="0.55">+ALFQ</text>
<text x="640.8" y="1233.7" font-size="29.5" text-anchor="middle" fill="#000" textLength="100" lengthAdjust="spacingAndGlyphs" stroke-width="0.55">−ALFQ</text>
<text x="480.7" y="1266.5" font-size="29.5" text-anchor="middle" fill="#000" font-weight="700" textLength="339.6" lengthAdjust="spacingAndGlyphs" stroke-width="0.55">Immunization dose (<tspan font-family='"Liberation Serif", serif'>μ</tspan>g)</text>
<text x="109.6" y="939" font-size="30.3" text-anchor="middle" fill="#000" textLength="372.5" lengthAdjust="spacingAndGlyphs" transform="rotate(-90 109.6 939)" stroke-width="1.0">IFN-<tspan font-family='"Liberation Serif", serif' font-weight='400' font-style='italic'>γ</tspan> SFC/10<tspan dy="-11" font-size="21" font-weight="700">6</tspan><tspan dy="11"> splenocytes</tspan></text>
<text x="481.5" y="709.6" font-size="35.5" text-anchor="middle" fill="#000" font-weight="700" textLength="79.5" lengthAdjust="spacingAndGlyphs" stroke-width="0.3">IFN-<tspan font-family='"Liberation Serif", serif' font-weight='400' font-style='italic'>γ</tspan></text>
<path d="M266.8 1124.7V1101.4H305.8V1124.7" fill="none" stroke="#B2B2B6" stroke-width="5.2" stroke-linejoin="miter"/>
<path d="M324 1124.7V1106.5H361.9V1124.7" fill="none" stroke="#007652" stroke-width="5.2" stroke-linejoin="miter"/>
<path d="M379.1 1124.7V1086H415.3V1124.7" fill="none" stroke="#00DA92" stroke-width="5.2" stroke-linejoin="miter"/>
<path d="M435.2 1124.7V1071.4H471.4V1124.7" fill="none" stroke="#00008F" stroke-width="5.2" stroke-linejoin="miter"/>
<path d="M490.6 1124.7V1039.1H527.5V1124.7" fill="none" stroke="#0000FF" stroke-width="5.2" stroke-linejoin="miter"/>
<circle cx="222.5" cy="1121.8" r="7.1" fill="#B2B2B6"/>
<circle cx="231" cy="1125.2" r="7.1" fill="#B2B2B6"/>
<circle cx="239.5" cy="1121.8" r="7.1" fill="#B2B2B6"/>
<circle cx="227.6" cy="1124.6" r="7.1" fill="#B2B2B6"/>
<circle cx="234.4" cy="1123.9" r="7.1" fill="#B2B2B6"/>
<path d="M269.8 1088.8L278.6 1080L287.5 1088.8L278.6 1097.7Z" fill="#B2B2B6"/>
<path d="M283.4 1095.7L292.2 1086.8L301.1 1095.7L292.2 1104.5Z" fill="#B2B2B6"/>
<path d="M277.6 1107.6L286.5 1098.7L295.3 1107.6L286.5 1116.4Z" fill="#B2B2B6"/>
<path d="M273.2 1099.1L282 1090.2L290.9 1099.1L282 1107.9Z" fill="#B2B2B6"/>
<path d="M281.7 1102.5L290.5 1093.6L299.4 1102.5L290.5 1111.3Z" fill="#B2B2B6"/>
<rect x="336.1" y="1073.8" width="13" height="13" fill="#007250"/>
<rect x="324.9" y="1106.2" width="13" height="13" fill="#007250"/>
<rect x="347" y="1104.5" width="13" height="13" fill="#007250"/>
<rect x="336.1" y="1111.3" width="13" height="13" fill="#007250"/>
<rect x="330" y="1109.6" width="13" height="13" fill="#007250"/>
<rect x="341.9" y="1109.6" width="13" height="13" fill="#007250"/>
<line x1="342.6" y1="1091.6" x2="342.6" y2="1123.5" stroke="#000" stroke-width="3" stroke-linecap="butt"/>
<line x1="333.6" y1="1091.6" x2="351.6" y2="1091.6" stroke="#000" stroke-width="3" stroke-linecap="butt"/>
<line x1="333.6" y1="1123.5" x2="351.6" y2="1123.5" stroke="#000" stroke-width="3" stroke-linecap="butt"/>
<path d="M379.9 1045.8L396.4 1045.8L388.2 1031Z" fill="#00D68E"/>
<path d="M398.9 1056L415.5 1056L407.2 1041.2Z" fill="#00D68E"/>
<path d="M382.6 1110.4L399.2 1110.4L390.9 1095.7Z" fill="#00D68E"/>
<path d="M397.2 1118.9L413.8 1118.9L405.5 1104.2Z" fill="#00D68E"/>
<path d="M389.4 1132.5L406 1132.5L397.7 1117.8Z" fill="#00D68E"/>
<line x1="397.7" y1="1046.3" x2="397.7" y2="1124.6" stroke="#000" stroke-width="3" stroke-linecap="butt"/>
<line x1="388.7" y1="1046.3" x2="406.7" y2="1046.3" stroke="#000" stroke-width="3" stroke-linecap="butt"/>
<path d="M445.5 956.7L462.1 956.7L453.8 971.5Z" fill="#00008F"/>
<path d="M435.3 1016.2L451.9 1016.2L443.6 1031Z" fill="#00008F"/>
<path d="M455.1 1024.7L471.6 1024.7L463.3 1039.5Z" fill="#00008F"/>
<path d="M444.9 1055.4L461.4 1055.4L453.1 1070.1Z" fill="#00008F"/>
<path d="M438.7 1082.6L455.3 1082.6L447 1097.3Z" fill="#00008F"/>
<path d="M452.3 1082.6L468.9 1082.6L460.6 1097.3Z" fill="#00008F"/>
<path d="M440.4 1092.8L457 1092.8L448.7 1107.6Z" fill="#00008F"/>
<path d="M448.9 1109.8L465.5 1109.8L457.2 1124.6Z" fill="#00008F"/>
<line x1="453.1" y1="1019.8" x2="453.1" y2="1118.8" stroke="#000" stroke-width="3" stroke-linecap="butt"/>
<line x1="444.1" y1="1019.8" x2="462.1" y2="1019.8" stroke="#000" stroke-width="3" stroke-linecap="butt"/>
<line x1="444.1" y1="1118.8" x2="462.1" y2="1118.8" stroke="#000" stroke-width="3" stroke-linecap="butt"/>
<path d="M500.4 842.9L509.3 834.1L518.1 842.9L509.3 851.7Z" fill="#0000FF"/>
<path d="M500.4 896.7L509.3 887.8L518.1 896.7L509.3 905.5Z" fill="#0000FF"/>
<path d="M500.4 956.2L509.3 947.4L518.1 956.2L509.3 965Z" fill="#0000FF"/>
<path d="M490.2 976.6L499.1 967.8L507.9 976.6L499.1 985.4Z" fill="#0000FF"/>
<path d="M509.6 985.1L518.4 976.3L527.3 985.1L518.4 993.9Z" fill="#0000FF"/>
<path d="M490.9 1051.4L499.7 1042.6L508.6 1051.4L499.7 1060.3Z" fill="#0000FF"/>
<path d="M509.6 1051.4L518.4 1042.6L527.3 1051.4L518.4 1060.3Z" fill="#0000FF"/>
<path d="M490.9 1078.6L499.7 1069.8L508.6 1078.6L499.7 1087.5Z" fill="#0000FF"/>
<path d="M519.1 1084.8L528 1075.9L536.8 1084.8L528 1093.6Z" fill="#0000FF"/>
<path d="M489.2 1099.1L498 1090.2L506.9 1099.1L498 1107.9Z" fill="#0000FF"/>
<path d="M511.3 1099.1L520.1 1090.2L529 1099.1L520.1 1107.9Z" fill="#0000FF"/>
<path d="M490.9 1107.6L499.7 1098.7L508.6 1107.6L499.7 1116.4Z" fill="#0000FF"/>
<path d="M502.8 1112.7L511.6 1103.8L520.5 1112.7L511.6 1121.5Z" fill="#0000FF"/>
<path d="M499.4 1124.6L508.2 1115.7L517.1 1124.6L508.2 1133.4Z" fill="#0000FF"/>
<line x1="508.9" y1="951.1" x2="508.9" y2="1126.3" stroke="#000" stroke-width="3" stroke-linecap="butt"/>
<line x1="499.9" y1="951.1" x2="517.9" y2="951.1" stroke="#000" stroke-width="3" stroke-linecap="butt"/>
<circle cx="557.6" cy="1117.8" r="7.1" fill="#007250"/>
<circle cx="564.4" cy="1124.6" r="7.1" fill="#007250"/>
<circle cx="572.9" cy="1123.9" r="7.1" fill="#007250"/>
<circle cx="561" cy="1126.3" r="7.1" fill="#007250"/>
<circle cx="569.5" cy="1126.3" r="7.1" fill="#007250"/>
<rect x="601.5" y="1117.4" width="13" height="13" fill="#00D68E"/>
<rect x="613.5" y="1117.4" width="13" height="13" fill="#00D68E"/>
<rect x="625.5" y="1117.4" width="13" height="13" fill="#00D68E"/>
<path d="M655.7 1129.8L672.3 1129.8L664 1115Z" fill="#00008F"/>
<path d="M667.7 1129.8L684.3 1129.8L676 1115Z" fill="#00008F"/>
<path d="M679.7 1129.8L696.3 1129.8L688 1115Z" fill="#00008F"/>
<path d="M661.7 1129.8L678.3 1129.8L670 1115Z" fill="#00008F"/>
<path d="M673.7 1129.8L690.3 1129.8L682 1115Z" fill="#00008F"/>
<path d="M710.7 1117.6L727.3 1117.6L719 1132.4Z" fill="#0000FF"/>
<path d="M722.7 1117.6L739.3 1117.6L731 1132.4Z" fill="#0000FF"/>
<path d="M734.7 1117.6L751.3 1117.6L743 1132.4Z" fill="#0000FF"/>
<line x1="555.3" y1="1123.9" x2="573.3" y2="1123.9" stroke="#000" stroke-width="3.5" stroke-linecap="butt"/>
<line x1="611" y1="1123.9" x2="629" y2="1123.9" stroke="#000" stroke-width="3.5" stroke-linecap="butt"/>
<line x1="667" y1="1123.9" x2="685" y2="1123.9" stroke="#000" stroke-width="3.5" stroke-linecap="butt"/>
<line x1="722" y1="1123.9" x2="740" y2="1123.9" stroke="#000" stroke-width="3.5" stroke-linecap="butt"/>
<line x1="939.9" y1="749.2" x2="939.9" y2="837" stroke="#000" stroke-width="3.6" stroke-linecap="butt"/>
<line x1="939.9" y1="865.4" x2="939.9" y2="1122.6" stroke="#000" stroke-width="3.6" stroke-linecap="butt"/>
<line x1="928.9" y1="837" x2="948.9" y2="837" stroke="#000" stroke-width="3.6" stroke-linecap="butt"/>
<line x1="928.9" y1="865.4" x2="948.9" y2="865.4" stroke="#000" stroke-width="3.6" stroke-linecap="butt"/>
<line x1="928.6" y1="751" x2="939.9" y2="751" stroke="#000" stroke-width="3.6" stroke-linecap="butt"/>
<text x="923.5" y="759.8" font-size="28.3" text-anchor="end" fill="#000" font-weight="700" textLength="43.7" lengthAdjust="spacingAndGlyphs" stroke-width="0.55">800</text>
<line x1="928.6" y1="785.5" x2="939.9" y2="785.5" stroke="#000" stroke-width="3.6" stroke-linecap="butt"/>
<text x="923.5" y="794.2" font-size="28.3" text-anchor="end" fill="#000" font-weight="700" textLength="43.7" lengthAdjust="spacingAndGlyphs" stroke-width="0.55">700</text>
<line x1="928.6" y1="820.5" x2="939.9" y2="820.5" stroke="#000" stroke-width="3.6" stroke-linecap="butt"/>
<text x="923.5" y="829.2" font-size="28.3" text-anchor="end" fill="#000" font-weight="700" textLength="43.7" lengthAdjust="spacingAndGlyphs" stroke-width="0.55">600</text>
<line x1="928.6" y1="901.8" x2="939.9" y2="901.8" stroke="#000" stroke-width="3.6" stroke-linecap="butt"/>
<text x="923.5" y="910.5" font-size="28.3" text-anchor="end" fill="#000" font-weight="700" textLength="43.7" lengthAdjust="spacingAndGlyphs" stroke-width="0.55">300</text>
<line x1="928.6" y1="975" x2="939.9" y2="975" stroke="#000" stroke-width="3.6" stroke-linecap="butt"/>
<text x="923.5" y="983.8" font-size="28.3" text-anchor="end" fill="#000" font-weight="700" textLength="43.7" lengthAdjust="spacingAndGlyphs" stroke-width="0.55">200</text>
<line x1="928.6" y1="1048" x2="939.9" y2="1048" stroke="#000" stroke-width="3.6" stroke-linecap="butt"/>
<text x="923.5" y="1056.8" font-size="28.3" text-anchor="end" fill="#000" font-weight="700" textLength="43.7" lengthAdjust="spacingAndGlyphs" stroke-width="0.55">100</text>
<line x1="928.6" y1="1120.8" x2="939.9" y2="1120.8" stroke="#000" stroke-width="3.6" stroke-linecap="butt"/>
<text x="923.5" y="1129.5" font-size="28.3" text-anchor="end" fill="#000" font-weight="700" textLength="14.6" lengthAdjust="spacingAndGlyphs" stroke-width="0.55">0</text>
<line x1="929" y1="1120.8" x2="1497" y2="1120.8" stroke="#000" stroke-width="3.6" stroke-linecap="butt"/>
<line x1="1023.5" y1="1120.8" x2="1023.5" y2="1132.6" stroke="#000" stroke-width="3.6" stroke-linecap="butt"/>
<line x1="1079.2" y1="1120.8" x2="1079.2" y2="1132.6" stroke="#000" stroke-width="3.6" stroke-linecap="butt"/>
<line x1="1134.5" y1="1120.8" x2="1134.5" y2="1132.6" stroke="#000" stroke-width="3.6" stroke-linecap="butt"/>
<line x1="1190.4" y1="1120.8" x2="1190.4" y2="1132.6" stroke="#000" stroke-width="3.6" stroke-linecap="butt"/>
<line x1="1245.9" y1="1120.8" x2="1245.9" y2="1132.6" stroke="#000" stroke-width="3.6" stroke-linecap="butt"/>
<line x1="1301.6" y1="1120.8" x2="1301.6" y2="1132.6" stroke="#000" stroke-width="3.6" stroke-linecap="butt"/>
<line x1="1357.2" y1="1120.8" x2="1357.2" y2="1132.6" stroke="#000" stroke-width="3.6" stroke-linecap="butt"/>
<line x1="1412.7" y1="1120.8" x2="1412.7" y2="1132.6" stroke="#000" stroke-width="3.6" stroke-linecap="butt"/>
<line x1="1468.3" y1="1120.8" x2="1468.3" y2="1132.6" stroke="#000" stroke-width="3.6" stroke-linecap="butt"/>
<text x="971.1" y="1157" font-size="27.5" text-anchor="end" fill="#000" font-weight="700" transform="rotate(-45 971.1 1157)" stroke-width="0.55">ALFQ</text>
<text x="1028.2" y="1158.1" font-size="27.5" text-anchor="end" fill="#000" font-weight="700" transform="rotate(-45 1028.2 1158.1)" stroke-width="0.55">rPfCelTOS</text>
<text x="1086.7" y="1155.3" font-size="27.5" text-anchor="end" fill="#000" font-weight="700" transform="rotate(-45 1086.7 1155.3)" stroke-width="0.55">0.3</text>
<text x="1142" y="1155.3" font-size="27.5" text-anchor="end" fill="#000" font-weight="700" transform="rotate(-45 1142 1155.3)" stroke-width="0.55">1</text>
<text x="1197.9" y="1155.3" font-size="27.5" text-anchor="end" fill="#000" font-weight="700" transform="rotate(-45 1197.9 1155.3)" stroke-width="0.55">3</text>
<text x="1253.4" y="1155.3" font-size="27.5" text-anchor="end" fill="#000" font-weight="700" transform="rotate(-45 1253.4 1155.3)" stroke-width="0.55">10</text>
<text x="1309.1" y="1155.3" font-size="27.5" text-anchor="end" fill="#000" font-weight="700" transform="rotate(-45 1309.1 1155.3)" stroke-width="0.55">1</text>
<text x="1364.7" y="1155.3" font-size="27.5" text-anchor="end" fill="#000" font-weight="700" transform="rotate(-45 1364.7 1155.3)" stroke-width="0.55">3</text>
<text x="1420.2" y="1155.3" font-size="27.5" text-anchor="end" fill="#000" font-weight="700" transform="rotate(-45 1420.2 1155.3)" stroke-width="0.55">10</text>
<text x="1475.8" y="1155.3" font-size="27.5" text-anchor="end" fill="#000" font-weight="700" transform="rotate(-45 1475.8 1155.3)" stroke-width="0.55">30</text>
<line x1="1054" y1="1188.5" x2="1253.5" y2="1188.5" stroke="#000" stroke-width="3" stroke-linecap="butt"/>
<line x1="1281.6" y1="1188.5" x2="1481.6" y2="1188.5" stroke="#000" stroke-width="3" stroke-linecap="butt"/>
<text x="1149" y="1223.7" font-size="29.5" text-anchor="middle" fill="#000" textLength="100" lengthAdjust="spacingAndGlyphs" stroke-width="0.55">+ALFQ</text>
<text x="1373.7" y="1223.7" font-size="29.5" text-anchor="middle" fill="#000" textLength="100" lengthAdjust="spacingAndGlyphs" stroke-width="0.55">−ALFQ</text>
<text x="1218.3" y="1262.5" font-size="29.5" text-anchor="middle" fill="#000" font-weight="700" textLength="339.6" lengthAdjust="spacingAndGlyphs" stroke-width="0.55">Immunization dose (<tspan font-family='"Liberation Serif", serif'>μ</tspan>g)</text>
<text x="865" y="936.5" font-size="31" text-anchor="middle" fill="#000" textLength="358" lengthAdjust="spacingAndGlyphs" transform="rotate(-90 865 936.5)" stroke-width="1.0">IL-4 SFC/10<tspan dy="-11" font-size="21" font-weight="700">6</tspan><tspan dy="11"> splenocytes</tspan></text>
<text x="1218.3" y="706.5" font-size="36" text-anchor="middle" fill="#000" font-weight="700" textLength="61.5" lengthAdjust="spacingAndGlyphs" stroke-width="0.3">IL-4</text>
<path d="M949.7 1120.8V1115H986.2V1120.8" fill="none" stroke="#B2B2B6" stroke-width="5.2" stroke-linejoin="miter"/>
<path d="M1005.1 1120.8V1098H1041.3V1120.8" fill="none" stroke="#B2B2B6" stroke-width="5.2" stroke-linejoin="miter"/>
<path d="M1061.3 1120.8V1080.3H1097.5V1120.8" fill="none" stroke="#007652" stroke-width="5.2" stroke-linejoin="miter"/>
<path d="M1116.4 1120.8V1094.5H1152.9V1120.8" fill="none" stroke="#00DA92" stroke-width="5.2" stroke-linejoin="miter"/>
<path d="M1172.5 1120.8V1067.3H1209V1120.8" fill="none" stroke="#00008F" stroke-width="5.2" stroke-linejoin="miter"/>
<path d="M1227.9 1120.8V1028.2H1264.5V1120.8" fill="none" stroke="#0000FF" stroke-width="5.2" stroke-linejoin="miter"/>
<path d="M1284 1120.8V1116.7H1319.6V1120.8" fill="none" stroke="#007652" stroke-width="5.2" stroke-linejoin="miter"/>
<path d="M1339.5 1120.8V1115H1375.7V1120.8" fill="none" stroke="#00DA92" stroke-width="5.2" stroke-linejoin="miter"/>
<path d="M1395.3 1120.8V1116H1431.1V1120.8" fill="none" stroke="#00008F" stroke-width="5.2" stroke-linejoin="miter"/>
<path d="M1450.7 1120.8V1115H1486.9V1120.8" fill="none" stroke="#0000FF" stroke-width="5.2" stroke-linejoin="miter"/>
<circle cx="959.1" cy="1093.9" r="7.1" fill="#B2B2B6"/>
<circle cx="976.1" cy="1095.7" r="7.1" fill="#B2B2B6"/>
<circle cx="954" cy="1104.2" r="7.1" fill="#B2B2B6"/>
<circle cx="967.6" cy="1109.3" r="7.1" fill="#B2B2B6"/>
<circle cx="977.8" cy="1107.6" r="7.1" fill="#B2B2B6"/>
<circle cx="960.8" cy="1117.8" r="7.1" fill="#B2B2B6"/>
<circle cx="971" cy="1121.2" r="7.1" fill="#B2B2B6"/>
<circle cx="967.6" cy="1125.2" r="7.1" fill="#B2B2B6"/>
<path d="M1005.4 1078L1014.2 1069.1L1023 1078L1014.2 1086.8Z" fill="#B2B2B6"/>
<path d="M1024.1 1083.7L1032.9 1074.9L1041.7 1083.7L1032.9 1092.6Z" fill="#B2B2B6"/>
<path d="M1009.8 1099.1L1018.6 1090.2L1027.5 1099.1L1018.6 1107.9Z" fill="#B2B2B6"/>
<path d="M1020 1102.5L1028.8 1093.6L1037.7 1102.5L1028.8 1111.3Z" fill="#B2B2B6"/>
<path d="M1011.5 1114.4L1020.3 1105.5L1029.2 1114.4L1020.3 1123.2Z" fill="#B2B2B6"/>
<path d="M1020 1111L1028.8 1102.1L1037.7 1111L1028.8 1119.8Z" fill="#B2B2B6"/>
<line x1="1023.7" y1="1085.4" x2="1023.7" y2="1107.6" stroke="#B2B2B6" stroke-width="3" stroke-linecap="butt"/>
<line x1="1014.7" y1="1085.4" x2="1032.7" y2="1085.4" stroke="#B2B2B6" stroke-width="3" stroke-linecap="butt"/>
<line x1="1014.7" y1="1107.6" x2="1032.7" y2="1107.6" stroke="#B2B2B6" stroke-width="3" stroke-linecap="butt"/>
<rect x="1072.7" y="957.2" width="13" height="13" fill="#007250"/>
<rect x="1073.4" y="1087.5" width="13" height="13" fill="#007250"/>
<rect x="1063.2" y="1101.1" width="13" height="13" fill="#007250"/>
<rect x="1078.5" y="1104.5" width="13" height="13" fill="#007250"/>
<rect x="1072.7" y="1111.3" width="13" height="13" fill="#007250"/>
<line x1="1079.2" y1="1013.3" x2="1079.2" y2="1126.3" stroke="#000" stroke-width="3" stroke-linecap="butt"/>
<line x1="1070.2" y1="1013.3" x2="1088.2" y2="1013.3" stroke="#000" stroke-width="3" stroke-linecap="butt"/>
<path d="M1126.7 1049.9L1143.2 1049.9L1135 1035.1Z" fill="#00D68E"/>
<path d="M1117.5 1110.4L1134.1 1110.4L1125.8 1095.7Z" fill="#00D68E"/>
<path d="M1131.1 1112.1L1147.7 1112.1L1139.4 1097.4Z" fill="#00D68E"/>
<path d="M1139.6 1108.7L1156.2 1108.7L1147.9 1094Z" fill="#00D68E"/>
<path d="M1126 1120.6L1142.6 1120.6L1134.3 1105.9Z" fill="#00D68E"/>
<line x1="1134.3" y1="1065" x2="1134.3" y2="1126.3" stroke="#000" stroke-width="3" stroke-linecap="butt"/>
<line x1="1125.3" y1="1065" x2="1143.3" y2="1065" stroke="#000" stroke-width="3" stroke-linecap="butt"/>
<path d="M1182.8 954.3L1199.4 954.3L1191.1 969.1Z" fill="#00008F"/>
<path d="M1172.9 978.8L1189.5 978.8L1181.2 993.6Z" fill="#00008F"/>
<path d="M1192.3 971.3L1208.9 971.3L1200.6 986.1Z" fill="#00008F"/>
<path d="M1173.6 1075.8L1190.2 1075.8L1181.9 1090.5Z" fill="#00008F"/>
<path d="M1190.6 1080.9L1207.2 1080.9L1198.9 1095.6Z" fill="#00008F"/>
<path d="M1177 1092.8L1193.6 1092.8L1185.3 1107.6Z" fill="#00008F"/>
<path d="M1187.2 1099.6L1203.8 1099.6L1195.5 1114.4Z" fill="#00008F"/>
<path d="M1182.1 1113.2L1198.7 1113.2L1190.4 1128Z" fill="#00008F"/>
<line x1="1190.4" y1="1002.1" x2="1190.4" y2="1126.3" stroke="#000" stroke-width="3" stroke-linecap="butt"/>
<line x1="1181.4" y1="1002.1" x2="1199.4" y2="1002.1" stroke="#000" stroke-width="3" stroke-linecap="butt"/>
<path d="M1237.7 821.2L1246.5 812.3L1255.4 821.2L1246.5 830Z" fill="#0000FF"/>
<path d="M1237.7 872.9L1246.5 864L1255.4 872.9L1246.5 881.7Z" fill="#0000FF"/>
<path d="M1237.7 933.1L1246.5 924.2L1255.4 933.1L1246.5 941.9Z" fill="#0000FF"/>
<path d="M1237.7 979.3L1246.5 970.5L1255.4 979.3L1246.5 988.1Z" fill="#0000FF"/>
<path d="M1228.2 1013L1237 1004.2L1245.8 1013L1237 1021.8Z" fill="#0000FF"/>
<path d="M1247.2 1013L1256.1 1004.2L1264.9 1013L1256.1 1021.8Z" fill="#0000FF"/>
<path d="M1237.7 1068.4L1246.5 1059.6L1255.4 1068.4L1246.5 1077.3Z" fill="#0000FF"/>
<path d="M1246.2 1078.6L1255 1069.8L1263.9 1078.6L1255 1087.5Z" fill="#0000FF"/>
<path d="M1229.2 1087.1L1238 1078.3L1246.9 1087.1L1238 1096Z" fill="#0000FF"/>
<path d="M1237.7 1090.5L1246.5 1081.7L1255.4 1090.5L1246.5 1099.4Z" fill="#0000FF"/>
<path d="M1230.9 1099.1L1239.7 1090.2L1248.6 1099.1L1239.7 1107.9Z" fill="#0000FF"/>
<path d="M1246.2 1105.9L1255 1097L1263.9 1105.9L1255 1114.7Z" fill="#0000FF"/>
<path d="M1237.7 1123.9L1246.5 1115.1L1255.4 1123.9L1246.5 1132.7Z" fill="#0000FF"/>
<line x1="1245.9" y1="905.9" x2="1245.9" y2="1126.3" stroke="#000" stroke-width="3" stroke-linecap="butt"/>
<line x1="1236.9" y1="905.9" x2="1254.9" y2="905.9" stroke="#000" stroke-width="3" stroke-linecap="butt"/>
<circle cx="1301.6" cy="1090.5" r="7.1" fill="#007250"/>
<circle cx="1285.7" cy="1116.1" r="7.1" fill="#007250"/>
<circle cx="1314.6" cy="1114.4" r="7.1" fill="#007250"/>
<circle cx="1301.6" cy="1121.2" r="7.1" fill="#007250"/>
<circle cx="1294.2" cy="1121.2" r="7.1" fill="#007250"/>
<line x1="1301.6" y1="1100.8" x2="1301.6" y2="1120.5" stroke="#000" stroke-width="3" stroke-linecap="butt"/>
<line x1="1293.6" y1="1100.8" x2="1309.6" y2="1100.8" stroke="#000" stroke-width="3" stroke-linecap="butt"/>
<line x1="1293.6" y1="1120.5" x2="1309.6" y2="1120.5" stroke="#000" stroke-width="3" stroke-linecap="butt"/>
<rect x="1343.8" y="1096" width="13" height="13" fill="#00D68E"/>
<rect x="1359.1" y="1101.1" width="13" height="13" fill="#00D68E"/>
<rect x="1338.7" y="1107.9" width="13" height="13" fill="#00D68E"/>
<rect x="1362.5" y="1107.9" width="13" height="13" fill="#00D68E"/>
<rect x="1350.6" y="1114.7" width="13" height="13" fill="#00D68E"/>
<line x1="1357.1" y1="1105.9" x2="1357.1" y2="1119.5" stroke="#000" stroke-width="3" stroke-linecap="butt"/>
<line x1="1349.1" y1="1105.9" x2="1365.1" y2="1105.9" stroke="#000" stroke-width="3" stroke-linecap="butt"/>
<line x1="1349.1" y1="1119.5" x2="1365.1" y2="1119.5" stroke="#000" stroke-width="3" stroke-linecap="butt"/>
<path d="M1404.9 1100.2L1421.5 1100.2L1413.2 1085.4Z" fill="#00008F"/>
<path d="M1391.3 1120.6L1407.9 1120.6L1399.6 1105.9Z" fill="#00008F"/>
<path d="M1401.5 1122.3L1418.1 1122.3L1409.8 1107.6Z" fill="#00008F"/>
<path d="M1411.7 1122.3L1428.3 1122.3L1420 1107.6Z" fill="#00008F"/>
<path d="M1420.2 1120.6L1436.8 1120.6L1428.5 1105.9Z" fill="#00008F"/>
<line x1="1412.5" y1="1105.9" x2="1412.5" y2="1120.5" stroke="#000" stroke-width="3" stroke-linecap="butt"/>
<line x1="1404.5" y1="1105.9" x2="1420.5" y2="1105.9" stroke="#000" stroke-width="3" stroke-linecap="butt"/>
<line x1="1404.5" y1="1120.5" x2="1420.5" y2="1120.5" stroke="#000" stroke-width="3" stroke-linecap="butt"/>
<path d="M1452.5 1097.9L1469.1 1097.9L1460.8 1112.7Z" fill="#0000FF"/>
<path d="M1467.8 1099.6L1484.4 1099.6L1476.1 1114.4Z" fill="#0000FF"/>
<path d="M1460 1111.5L1476.6 1111.5L1468.3 1126.3Z" fill="#0000FF"/>
<line x1="1468.3" y1="1109.3" x2="1468.3" y2="1116.1" stroke="#000" stroke-width="3" stroke-linecap="butt"/>
<line x1="1460.3" y1="1109.3" x2="1476.3" y2="1109.3" stroke="#000" stroke-width="3" stroke-linecap="butt"/>
<line x1="1460.3" y1="1116.1" x2="1476.3" y2="1116.1" stroke="#000" stroke-width="3" stroke-linecap="butt"/>
<text x="26" y="1354" font-size="40.5" text-anchor="start" fill="#000" font-weight="700" textLength="23" lengthAdjust="spacingAndGlyphs" stroke-width="0.55">d</text>
<text x="119" y="1514.8" font-size="32.5" text-anchor="middle" fill="#000" font-weight="700" textLength="182.5" lengthAdjust="spacingAndGlyphs" transform="rotate(-90 119 1514.8)" stroke-width="0.55">Th1-Skewed</text>
<text x="112.5" y="1942" font-size="32.5" text-anchor="middle" fill="#000" font-weight="700" textLength="182.5" lengthAdjust="spacingAndGlyphs" transform="rotate(-90 112.5 1942)" stroke-width="0.55">Th2-Skewed</text>
<text x="111" y="2388.5" font-size="32.5" text-anchor="middle" fill="#000" font-weight="700" textLength="267" lengthAdjust="spacingAndGlyphs" transform="rotate(-90 111 2388.5)" stroke-width="0.55">Pro-Inflammatory</text>
<line x1="243.6" y1="1580.2" x2="650.7" y2="1580.2" stroke="#1a1a1a" stroke-width="2.2" stroke-linecap="butt"/>
<line x1="243.6" y1="1377.1" x2="243.6" y2="1649.2" stroke="#000" stroke-width="3.1" stroke-linecap="butt"/>
<line x1="235.9" y1="1647.7" x2="650.7" y2="1647.7" stroke="#000" stroke-width="3.1" stroke-linecap="butt"/>
<line x1="235.1" y1="1378.6" x2="243.6" y2="1378.6" stroke="#000" stroke-width="3.1" stroke-linecap="butt"/>
<text x="231.8" y="1385.4" font-size="20.5" text-anchor="end" fill="#000" font-weight="700" textLength="42" lengthAdjust="spacingAndGlyphs" stroke-width="0.3">3000</text>
<line x1="235.1" y1="1445.7" x2="243.6" y2="1445.7" stroke="#000" stroke-width="3.1" stroke-linecap="butt"/>
<text x="231.8" y="1452.4" font-size="20.5" text-anchor="end" fill="#000" font-weight="700" textLength="42" lengthAdjust="spacingAndGlyphs" stroke-width="0.3">2000</text>
<line x1="235.1" y1="1513.2" x2="243.6" y2="1513.2" stroke="#000" stroke-width="3.1" stroke-linecap="butt"/>
<text x="231.8" y="1519.9" font-size="20.5" text-anchor="end" fill="#000" font-weight="700" textLength="42" lengthAdjust="spacingAndGlyphs" stroke-width="0.3">1000</text>
<line x1="235.1" y1="1580.2" x2="243.6" y2="1580.2" stroke="#000" stroke-width="3.1" stroke-linecap="butt"/>
<text x="231.8" y="1587" font-size="20.5" text-anchor="end" fill="#000" font-weight="700" textLength="10.5" lengthAdjust="spacingAndGlyphs" stroke-width="0.3">0</text>
<line x1="235.1" y1="1647.7" x2="243.6" y2="1647.7" stroke="#000" stroke-width="3.1" stroke-linecap="butt"/>
<text x="231.8" y="1654.4" font-size="20.5" text-anchor="end" fill="#000" font-weight="700" textLength="48.3" lengthAdjust="spacingAndGlyphs" stroke-width="0.3">-1000</text>
<line x1="284.5" y1="1647.7" x2="284.5" y2="1656.2" stroke="#000" stroke-width="3.1" stroke-linecap="butt"/>
<text x="283" y="1676.7" font-size="19.5" text-anchor="middle" fill="#000" font-weight="700" textLength="50.6" lengthAdjust="spacingAndGlyphs" stroke-width="0.3">ALFQ</text>
<line x1="365.4" y1="1647.7" x2="365.4" y2="1656.2" stroke="#000" stroke-width="3.1" stroke-linecap="butt"/>
<text x="365.4" y="1676.7" font-size="19.5" text-anchor="middle" fill="#000" font-weight="700" textLength="10.3" lengthAdjust="spacingAndGlyphs" stroke-width="0.3">3</text>
<line x1="447.2" y1="1647.7" x2="447.2" y2="1656.2" stroke="#000" stroke-width="3.1" stroke-linecap="butt"/>
<text x="447.2" y="1676.7" font-size="19.5" text-anchor="middle" fill="#000" font-weight="700" textLength="20.7" lengthAdjust="spacingAndGlyphs" stroke-width="0.3">10</text>
<line x1="527.4" y1="1647.7" x2="527.4" y2="1656.2" stroke="#000" stroke-width="3.1" stroke-linecap="butt"/>
<text x="527.4" y="1676.7" font-size="19.5" text-anchor="middle" fill="#000" font-weight="700" textLength="10.3" lengthAdjust="spacingAndGlyphs" stroke-width="0.3">3</text>
<line x1="608.3" y1="1647.7" x2="608.3" y2="1656.2" stroke="#000" stroke-width="3.1" stroke-linecap="butt"/>
<text x="608.3" y="1676.7" font-size="19.5" text-anchor="middle" fill="#000" font-weight="700" textLength="20.7" lengthAdjust="spacingAndGlyphs" stroke-width="0.3">10</text>
<line x1="339.2" y1="1683.9" x2="483.8" y2="1683.9" stroke="#222" stroke-width="2.6" stroke-linecap="butt"/>
<line x1="503.1" y1="1683.9" x2="650.7" y2="1683.9" stroke="#222" stroke-width="2.6" stroke-linecap="butt"/>
<text x="405.9" y="1712.1" font-size="20" text-anchor="middle" fill="#000" textLength="78.5" lengthAdjust="spacingAndGlyphs" stroke-width="0.4">+ALFQ</text>
<text x="569.4" y="1712.1" font-size="20" text-anchor="middle" fill="#000" textLength="78.5" lengthAdjust="spacingAndGlyphs" stroke-width="0.4">−ALFQ</text>
<text x="446.2" y="1738.7" font-size="19.5" text-anchor="middle" fill="#000" font-weight="700" textLength="248.6" lengthAdjust="spacingAndGlyphs" stroke-width="0.3">Immunization dose (<tspan font-family='"Liberation Serif", serif'>μ</tspan>g)</text>
<text x="171" y="1514.7" font-size="19.8" text-anchor="middle" fill="#000" font-weight="700" textLength="293.7" lengthAdjust="spacingAndGlyphs" transform="rotate(-90 171 1514.7)" stroke-width="0.3">IFN-<tspan font-family='"Liberation Serif", serif'>γ</tspan> concentration (pg/mL)</text>
<text x="446.4" y="1348.5" font-size="23.5" text-anchor="middle" fill="#000" font-weight="700" textLength="58" lengthAdjust="spacingAndGlyphs" stroke-width="0.4">IFN-<tspan font-family='"Liberation Serif", serif'>γ</tspan></text>
<path d="M339.2 1580.2V1541.1H392.1V1580.2" fill="none" stroke="#007652" stroke-width="4.8" stroke-linejoin="miter"/>
<path d="M420.2 1580.2V1529.5H473V1580.2" fill="none" stroke="#00DA92" stroke-width="4.8" stroke-linejoin="miter"/>
<circle cx="267.1" cy="1581" r="4.3" fill="#B2B2B6"/>
<circle cx="272.3" cy="1581" r="4.3" fill="#B2B2B6"/>
<circle cx="277.5" cy="1581" r="4.3" fill="#B2B2B6"/>
<circle cx="282.7" cy="1581" r="4.3" fill="#B2B2B6"/>
<circle cx="287.9" cy="1581" r="4.3" fill="#B2B2B6"/>
<circle cx="293.1" cy="1581" r="4.3" fill="#B2B2B6"/>
<circle cx="298.3" cy="1581" r="4.3" fill="#B2B2B6"/>
<circle cx="303.5" cy="1581" r="4.3" fill="#B2B2B6"/>
<circle cx="365.4" cy="1406.4" r="6.2" fill="#007250"/>
<circle cx="365.4" cy="1505.8" r="6.2" fill="#007250"/>
<circle cx="348.9" cy="1530.5" r="6.2" fill="#007250"/>
<circle cx="381.6" cy="1529" r="6.2" fill="#007250"/>
<circle cx="365.4" cy="1538.2" r="6.2" fill="#007250"/>
<circle cx="346.9" cy="1573.3" r="6.2" fill="#007250"/>
<circle cx="356.6" cy="1574.1" r="6.2" fill="#007250"/>
<circle cx="366.2" cy="1581.8" r="6.2" fill="#007250"/>
<circle cx="375.9" cy="1579.8" r="6.2" fill="#007250"/>
<circle cx="385.5" cy="1573.3" r="6.2" fill="#007250"/>
<line x1="365.4" y1="1485.4" x2="365.4" y2="1592.6" stroke="#1a1a1a" stroke-width="2.7" stroke-linecap="butt"/>
<line x1="352.4" y1="1485.4" x2="378.4" y2="1485.4" stroke="#1a1a1a" stroke-width="2.7" stroke-linecap="butt"/>
<line x1="352.4" y1="1592.6" x2="378.4" y2="1592.6" stroke="#1a1a1a" stroke-width="2.7" stroke-linecap="butt"/>
<rect x="441.2" y="1385.7" width="12" height="12" fill="#00D68E"/>
<rect x="441.2" y="1418.9" width="12" height="12" fill="#00D68E"/>
<rect x="441.2" y="1457" width="12" height="12" fill="#00D68E"/>
<rect x="433.5" y="1553.8" width="12" height="12" fill="#00D68E"/>
<rect x="448.9" y="1553.8" width="12" height="12" fill="#00D68E"/>
<rect x="421.9" y="1570" width="12" height="12" fill="#00D68E"/>
<rect x="431.5" y="1573.8" width="12" height="12" fill="#00D68E"/>
<rect x="441.2" y="1575" width="12" height="12" fill="#00D68E"/>
<rect x="450.8" y="1573.1" width="12" height="12" fill="#00D68E"/>
<rect x="460.4" y="1569.2" width="12" height="12" fill="#00D68E"/>
<line x1="447.2" y1="1455.3" x2="447.2" y2="1601.8" stroke="#1a1a1a" stroke-width="2.7" stroke-linecap="butt"/>
<line x1="434.2" y1="1455.3" x2="460.2" y2="1455.3" stroke="#1a1a1a" stroke-width="2.7" stroke-linecap="butt"/>
<line x1="434.2" y1="1601.8" x2="460.2" y2="1601.8" stroke="#1a1a1a" stroke-width="2.7" stroke-linecap="butt"/>
<path d="M503.2 1584.5L515.5 1584.5L509.4 1573.5Z" fill="#00008F"/>
<path d="M510.7 1584.5L523 1584.5L516.9 1573.5Z" fill="#00008F"/>
<path d="M518.2 1584.5L530.5 1584.5L524.4 1573.5Z" fill="#00008F"/>
<path d="M525.7 1584.5L538 1584.5L531.9 1573.5Z" fill="#00008F"/>
<path d="M533.2 1584.5L545.5 1584.5L539.4 1573.5Z" fill="#00008F"/>
<path d="M540.7 1584.5L553 1584.5L546.9 1573.5Z" fill="#00008F"/>
<line x1="512.7" y1="1581" x2="543.5" y2="1581" stroke="#111" stroke-width="2.5" stroke-linecap="butt"/>
<path d="M583.6 1570.5L596 1570.5L589.8 1581.5Z" fill="#0000FF"/>
<path d="M586.9 1574.4L599.2 1574.4L593.1 1585.4Z" fill="#0000FF"/>
<path d="M594.9 1574.4L607.2 1574.4L601.1 1585.4Z" fill="#0000FF"/>
<path d="M602.9 1574.4L615.2 1574.4L609.1 1585.4Z" fill="#0000FF"/>
<path d="M610.9 1574.4L623.2 1574.4L617.1 1585.4Z" fill="#0000FF"/>
<path d="M618.9 1574.4L631.2 1574.4L625.1 1585.4Z" fill="#0000FF"/>
<line x1="595.6" y1="1578.7" x2="622.6" y2="1578.7" stroke="#111" stroke-width="2.5" stroke-linecap="butt"/>
<line x1="776.8" y1="1602.2" x2="1184.3" y2="1602.2" stroke="#1a1a1a" stroke-width="2.2" stroke-linecap="butt"/>
<line x1="776.8" y1="1375.9" x2="776.8" y2="1648.9" stroke="#000" stroke-width="3.1" stroke-linecap="butt"/>
<line x1="769.1" y1="1647.3" x2="1184.3" y2="1647.3" stroke="#000" stroke-width="3.1" stroke-linecap="butt"/>
<line x1="768.3" y1="1377.5" x2="776.8" y2="1377.5" stroke="#000" stroke-width="3.1" stroke-linecap="butt"/>
<text x="763.4" y="1384.2" font-size="20.5" text-anchor="end" fill="#000" font-weight="700" textLength="42" lengthAdjust="spacingAndGlyphs" stroke-width="0.3">5000</text>
<line x1="768.3" y1="1422.2" x2="776.8" y2="1422.2" stroke="#000" stroke-width="3.1" stroke-linecap="butt"/>
<text x="763.4" y="1428.9" font-size="20.5" text-anchor="end" fill="#000" font-weight="700" textLength="42" lengthAdjust="spacingAndGlyphs" stroke-width="0.3">4000</text>
<line x1="768.3" y1="1467.3" x2="776.8" y2="1467.3" stroke="#000" stroke-width="3.1" stroke-linecap="butt"/>
<text x="763.4" y="1474" font-size="20.5" text-anchor="end" fill="#000" font-weight="700" textLength="42" lengthAdjust="spacingAndGlyphs" stroke-width="0.3">3000</text>
<line x1="768.3" y1="1512" x2="776.8" y2="1512" stroke="#000" stroke-width="3.1" stroke-linecap="butt"/>
<text x="763.4" y="1518.7" font-size="20.5" text-anchor="end" fill="#000" font-weight="700" textLength="42" lengthAdjust="spacingAndGlyphs" stroke-width="0.3">2000</text>
<line x1="768.3" y1="1557.1" x2="776.8" y2="1557.1" stroke="#000" stroke-width="3.1" stroke-linecap="butt"/>
<text x="763.4" y="1563.8" font-size="20.5" text-anchor="end" fill="#000" font-weight="700" textLength="42" lengthAdjust="spacingAndGlyphs" stroke-width="0.3">1000</text>
<line x1="768.3" y1="1602.2" x2="776.8" y2="1602.2" stroke="#000" stroke-width="3.1" stroke-linecap="butt"/>
<text x="763.4" y="1608.9" font-size="20.5" text-anchor="end" fill="#000" font-weight="700" textLength="10.5" lengthAdjust="spacingAndGlyphs" stroke-width="0.3">0</text>
<line x1="768.3" y1="1647.3" x2="776.8" y2="1647.3" stroke="#000" stroke-width="3.1" stroke-linecap="butt"/>
<text x="763.4" y="1654" font-size="20.5" text-anchor="end" fill="#000" font-weight="700" textLength="48.3" lengthAdjust="spacingAndGlyphs" stroke-width="0.3">-1000</text>
<line x1="818.1" y1="1647.3" x2="818.1" y2="1655.8" stroke="#000" stroke-width="3.1" stroke-linecap="butt"/>
<text x="816.6" y="1676.7" font-size="19.5" text-anchor="middle" fill="#000" font-weight="700" textLength="50.6" lengthAdjust="spacingAndGlyphs" stroke-width="0.3">ALFQ</text>
<line x1="899" y1="1647.3" x2="899" y2="1655.8" stroke="#000" stroke-width="3.1" stroke-linecap="butt"/>
<text x="899" y="1676.7" font-size="19.5" text-anchor="middle" fill="#000" font-weight="700" textLength="10.3" lengthAdjust="spacingAndGlyphs" stroke-width="0.3">3</text>
<line x1="980.7" y1="1647.3" x2="980.7" y2="1655.8" stroke="#000" stroke-width="3.1" stroke-linecap="butt"/>
<text x="980.7" y="1676.7" font-size="19.5" text-anchor="middle" fill="#000" font-weight="700" textLength="20.7" lengthAdjust="spacingAndGlyphs" stroke-width="0.3">10</text>
<line x1="1062.1" y1="1647.3" x2="1062.1" y2="1655.8" stroke="#000" stroke-width="3.1" stroke-linecap="butt"/>
<text x="1062.1" y="1676.7" font-size="19.5" text-anchor="middle" fill="#000" font-weight="700" textLength="10.3" lengthAdjust="spacingAndGlyphs" stroke-width="0.3">3</text>
<line x1="1143" y1="1647.3" x2="1143" y2="1655.8" stroke="#000" stroke-width="3.1" stroke-linecap="butt"/>
<text x="1143" y="1676.7" font-size="19.5" text-anchor="middle" fill="#000" font-weight="700" textLength="20.7" lengthAdjust="spacingAndGlyphs" stroke-width="0.3">10</text>
<line x1="871.2" y1="1684.7" x2="1018.5" y2="1684.7" stroke="#222" stroke-width="2.6" stroke-linecap="butt"/>
<line x1="1035.9" y1="1684.7" x2="1184.3" y2="1684.7" stroke="#222" stroke-width="2.6" stroke-linecap="butt"/>
<text x="945.3" y="1712.1" font-size="20" text-anchor="middle" fill="#000" textLength="78.5" lengthAdjust="spacingAndGlyphs" stroke-width="0.4">+ALFQ</text>
<text x="1107.2" y="1712.1" font-size="20" text-anchor="middle" fill="#000" textLength="78.5" lengthAdjust="spacingAndGlyphs" stroke-width="0.4">−ALFQ</text>
<text x="980.9" y="1737.9" font-size="19.5" text-anchor="middle" fill="#000" font-weight="700" textLength="248.6" lengthAdjust="spacingAndGlyphs" stroke-width="0.3">Immunization dose (<tspan font-family='"Liberation Serif", serif'>μ</tspan>g)</text>
<text x="702.6" y="1512" font-size="19.8" text-anchor="middle" fill="#000" font-weight="700" textLength="280.6" lengthAdjust="spacingAndGlyphs" transform="rotate(-90 702.6 1512)" stroke-width="0.3">IL-2 concentration (pg/mL)</text>
<text x="980" y="1346.2" font-size="23.5" text-anchor="middle" fill="#000" font-weight="700" textLength="43.5" lengthAdjust="spacingAndGlyphs" stroke-width="0.4">IL-2</text>
<path d="M873.1 1602.2V1557.6H926V1602.2" fill="none" stroke="#007652" stroke-width="4.8" stroke-linejoin="miter"/>
<path d="M953.7 1602.2V1573.8H1007V1602.2" fill="none" stroke="#00DA92" stroke-width="4.8" stroke-linejoin="miter"/>
<circle cx="799.9" cy="1603" r="4.3" fill="#B2B2B6"/>
<circle cx="805.1" cy="1603" r="4.3" fill="#B2B2B6"/>
<circle cx="810.3" cy="1603" r="4.3" fill="#B2B2B6"/>
<circle cx="815.5" cy="1603" r="4.3" fill="#B2B2B6"/>
<circle cx="820.7" cy="1603" r="4.3" fill="#B2B2B6"/>
<circle cx="825.9" cy="1603" r="4.3" fill="#B2B2B6"/>
<circle cx="831.1" cy="1603" r="4.3" fill="#B2B2B6"/>
<circle cx="836.3" cy="1603" r="4.3" fill="#B2B2B6"/>
<circle cx="899.8" cy="1416" r="6.2" fill="#007250"/>
<circle cx="899.8" cy="1542.5" r="6.2" fill="#007250"/>
<circle cx="879.7" cy="1564.4" r="6.2" fill="#007250"/>
<circle cx="891.3" cy="1569" r="6.2" fill="#007250"/>
<circle cx="910.6" cy="1567.5" r="6.2" fill="#007250"/>
<circle cx="920.2" cy="1564.4" r="6.2" fill="#007250"/>
<circle cx="899.8" cy="1574.1" r="6.2" fill="#007250"/>
<circle cx="883.6" cy="1581.8" r="6.2" fill="#007250"/>
<circle cx="899" cy="1594.1" r="6.2" fill="#007250"/>
<circle cx="916.4" cy="1592.6" r="6.2" fill="#007250"/>
<line x1="899" y1="1504.7" x2="899" y2="1608" stroke="#1a1a1a" stroke-width="2.7" stroke-linecap="butt"/>
<line x1="886" y1="1504.7" x2="912" y2="1504.7" stroke="#1a1a1a" stroke-width="2.7" stroke-linecap="butt"/>
<line x1="886" y1="1608" x2="912" y2="1608" stroke="#1a1a1a" stroke-width="2.7" stroke-linecap="butt"/>
<rect x="953.9" y="1533.4" width="12" height="12" fill="#00D68E"/>
<rect x="995.2" y="1537.2" width="12" height="12" fill="#00D68E"/>
<rect x="968.2" y="1543" width="12" height="12" fill="#00D68E"/>
<rect x="981.7" y="1547.6" width="12" height="12" fill="#00D68E"/>
<rect x="962.4" y="1583.5" width="12" height="12" fill="#00D68E"/>
<rect x="974" y="1581.6" width="12" height="12" fill="#00D68E"/>
<rect x="985.5" y="1581.6" width="12" height="12" fill="#00D68E"/>
<rect x="960.5" y="1589.3" width="12" height="12" fill="#00D68E"/>
<rect x="975.9" y="1591.2" width="12" height="12" fill="#00D68E"/>
<rect x="989.4" y="1587.3" width="12" height="12" fill="#00D68E"/>
<line x1="980.7" y1="1548.2" x2="980.7" y2="1596" stroke="#1a1a1a" stroke-width="2.7" stroke-linecap="butt"/>
<line x1="967.7" y1="1548.2" x2="993.7" y2="1548.2" stroke="#1a1a1a" stroke-width="2.7" stroke-linecap="butt"/>
<line x1="967.7" y1="1596" x2="993.7" y2="1596" stroke="#1a1a1a" stroke-width="2.7" stroke-linecap="butt"/>
<path d="M1037.2 1605.7L1049.5 1605.7L1043.3 1594.7Z" fill="#00008F"/>
<path d="M1044.7 1605.7L1057 1605.7L1050.8 1594.7Z" fill="#00008F"/>
<path d="M1052.2 1605.7L1064.5 1605.7L1058.3 1594.7Z" fill="#00008F"/>
<path d="M1059.7 1605.7L1072 1605.7L1065.8 1594.7Z" fill="#00008F"/>
<path d="M1067.2 1605.7L1079.5 1605.7L1073.3 1594.7Z" fill="#00008F"/>
<path d="M1074.7 1605.7L1087 1605.7L1080.8 1594.7Z" fill="#00008F"/>
<line x1="1047.4" y1="1603" x2="1076.3" y2="1603" stroke="#111" stroke-width="2.5" stroke-linecap="butt"/>
<path d="M1118.4 1588.7L1130.7 1588.7L1124.5 1599.7Z" fill="#0000FF"/>
<path d="M1122.8 1595.2L1135.1 1595.2L1128.9 1606.2Z" fill="#0000FF"/>
<path d="M1130.8 1595.2L1143.1 1595.2L1136.9 1606.2Z" fill="#0000FF"/>
<path d="M1138.8 1595.2L1151.1 1595.2L1144.9 1606.2Z" fill="#0000FF"/>
<path d="M1146.8 1595.2L1159.1 1595.2L1152.9 1606.2Z" fill="#0000FF"/>
<path d="M1154.8 1595.2L1167.1 1595.2L1160.9 1606.2Z" fill="#0000FF"/>
<line x1="1130.3" y1="1599.1" x2="1159.2" y2="1599.1" stroke="#111" stroke-width="2.5" stroke-linecap="butt"/>
<line x1="1286" y1="1604.5" x2="1700" y2="1604.5" stroke="#000" stroke-width="3.6" stroke-linecap="butt"/>
<line x1="1293.7" y1="1379.8" x2="1293.7" y2="1650.4" stroke="#000" stroke-width="3.1" stroke-linecap="butt"/>
<line x1="1286" y1="1648.8" x2="1700" y2="1648.8" stroke="#000" stroke-width="3.1" stroke-linecap="butt"/>
<line x1="1285.2" y1="1381.3" x2="1293.7" y2="1381.3" stroke="#000" stroke-width="3.1" stroke-linecap="butt"/>
<text x="1280.3" y="1388.1" font-size="20.5" text-anchor="end" fill="#000" font-weight="700" textLength="21" lengthAdjust="spacingAndGlyphs" stroke-width="0.3">50</text>
<line x1="1285.2" y1="1425.6" x2="1293.7" y2="1425.6" stroke="#000" stroke-width="3.1" stroke-linecap="butt"/>
<text x="1280.3" y="1432.4" font-size="20.5" text-anchor="end" fill="#000" font-weight="700" textLength="21" lengthAdjust="spacingAndGlyphs" stroke-width="0.3">40</text>
<line x1="1285.2" y1="1470.4" x2="1293.7" y2="1470.4" stroke="#000" stroke-width="3.1" stroke-linecap="butt"/>
<text x="1280.3" y="1477.1" font-size="20.5" text-anchor="end" fill="#000" font-weight="700" textLength="21" lengthAdjust="spacingAndGlyphs" stroke-width="0.3">30</text>
<line x1="1285.2" y1="1514.7" x2="1293.7" y2="1514.7" stroke="#000" stroke-width="3.1" stroke-linecap="butt"/>
<text x="1280.3" y="1521.4" font-size="20.5" text-anchor="end" fill="#000" font-weight="700" textLength="21" lengthAdjust="spacingAndGlyphs" stroke-width="0.3">20</text>
<line x1="1285.2" y1="1559.4" x2="1293.7" y2="1559.4" stroke="#000" stroke-width="3.1" stroke-linecap="butt"/>
<text x="1280.3" y="1566.2" font-size="20.5" text-anchor="end" fill="#000" font-weight="700" textLength="21" lengthAdjust="spacingAndGlyphs" stroke-width="0.3">10</text>
<line x1="1285.2" y1="1604.5" x2="1293.7" y2="1604.5" stroke="#000" stroke-width="3.1" stroke-linecap="butt"/>
<text x="1280.3" y="1611.3" font-size="20.5" text-anchor="end" fill="#000" font-weight="700" textLength="10.5" lengthAdjust="spacingAndGlyphs" stroke-width="0.3">0</text>
<line x1="1285.2" y1="1648.8" x2="1293.7" y2="1648.8" stroke="#000" stroke-width="3.1" stroke-linecap="butt"/>
<text x="1280.3" y="1655.6" font-size="20.5" text-anchor="end" fill="#000" font-weight="700" textLength="27.3" lengthAdjust="spacingAndGlyphs" stroke-width="0.3">-10</text>
<line x1="1333.8" y1="1648.8" x2="1333.8" y2="1657.3" stroke="#000" stroke-width="3.1" stroke-linecap="butt"/>
<text x="1332.3" y="1677.9" font-size="19.5" text-anchor="middle" fill="#000" font-weight="700" textLength="50.6" lengthAdjust="spacingAndGlyphs" stroke-width="0.3">ALFQ</text>
<line x1="1415.1" y1="1648.8" x2="1415.1" y2="1657.3" stroke="#000" stroke-width="3.1" stroke-linecap="butt"/>
<text x="1415.1" y="1677.9" font-size="19.5" text-anchor="middle" fill="#000" font-weight="700" textLength="10.3" lengthAdjust="spacingAndGlyphs" stroke-width="0.3">3</text>
<line x1="1496.1" y1="1648.8" x2="1496.1" y2="1657.3" stroke="#000" stroke-width="3.1" stroke-linecap="butt"/>
<text x="1496.1" y="1677.9" font-size="19.5" text-anchor="middle" fill="#000" font-weight="700" textLength="20.7" lengthAdjust="spacingAndGlyphs" stroke-width="0.3">10</text>
<line x1="1577" y1="1648.8" x2="1577" y2="1657.3" stroke="#000" stroke-width="3.1" stroke-linecap="butt"/>
<text x="1577" y="1677.9" font-size="19.5" text-anchor="middle" fill="#000" font-weight="700" textLength="10.3" lengthAdjust="spacingAndGlyphs" stroke-width="0.3">3</text>
<line x1="1657.6" y1="1648.8" x2="1657.6" y2="1657.3" stroke="#000" stroke-width="3.1" stroke-linecap="butt"/>
<text x="1657.6" y="1677.9" font-size="19.5" text-anchor="middle" fill="#000" font-weight="700" textLength="20.7" lengthAdjust="spacingAndGlyphs" stroke-width="0.3">10</text>
<line x1="1390" y1="1685.9" x2="1536.1" y2="1685.9" stroke="#222" stroke-width="2.6" stroke-linecap="butt"/>
<line x1="1554.7" y1="1685.9" x2="1700" y2="1685.9" stroke="#222" stroke-width="2.6" stroke-linecap="butt"/>
<text x="1464.1" y="1712.8" font-size="20" text-anchor="middle" fill="#000" textLength="78.5" lengthAdjust="spacingAndGlyphs" stroke-width="0.4">+ALFQ</text>
<text x="1625.2" y="1712.8" font-size="20" text-anchor="middle" fill="#000" textLength="78.5" lengthAdjust="spacingAndGlyphs" stroke-width="0.4">−ALFQ</text>
<text x="1495.3" y="1739.1" font-size="19.5" text-anchor="middle" fill="#000" font-weight="700" textLength="245.9" lengthAdjust="spacingAndGlyphs" stroke-width="0.3">Immunization dose (<tspan font-family='"Liberation Serif", serif'>μ</tspan>g)</text>
<text x="1241.8" y="1514.9" font-size="19.8" text-anchor="middle" fill="#000" font-weight="700" textLength="328.8" lengthAdjust="spacingAndGlyphs" transform="rotate(-90 1241.8 1514.9)" stroke-width="0.3">IL-12p70 concentration (pg/mL)</text>
<text x="1496.1" y="1349.3" font-size="23.5" text-anchor="middle" fill="#000" font-weight="700" textLength="105" lengthAdjust="spacingAndGlyphs" stroke-width="0.4">IL-12p70</text>
<path d="M1388.9 1604.5V1593.1H1441.7V1604.5" fill="none" stroke="#007652" stroke-width="4.8" stroke-linejoin="miter"/>
<path d="M1469.8 1604.5V1480.2H1522.7V1604.5" fill="none" stroke="#00DA92" stroke-width="4.8" stroke-linejoin="miter"/>
<line x1="1548.9" y1="1606.8" x2="1604.8" y2="1606.8" stroke="#00008F" stroke-width="3.6" stroke-linecap="butt"/>
<line x1="1321.4" y1="1604.9" x2="1348.4" y2="1604.9" stroke="#B2B2B6" stroke-width="2.2" stroke-linecap="butt"/>
<path d="M1321.1 1604.9L1326.4 1599.5L1331.8 1604.9L1326.4 1610.3Z" fill="#B2B2B6"/>
<path d="M1337.3 1604.9L1342.6 1599.5L1348 1604.9L1342.6 1610.3Z" fill="#B2B2B6"/>
<path d="M1408.9 1577.1L1421.3 1577.1L1415.1 1588.1Z" fill="#007250"/>
<path d="M1408.9 1609.6L1421.3 1609.6L1415.1 1598.6Z" fill="#007250"/>
<line x1="1415.1" y1="1576" x2="1415.1" y2="1609.5" stroke="#1a1a1a" stroke-width="2.7" stroke-linecap="butt"/>
<line x1="1402.1" y1="1576" x2="1428.1" y2="1576" stroke="#1a1a1a" stroke-width="2.7" stroke-linecap="butt"/>
<line x1="1402.1" y1="1609.5" x2="1428.1" y2="1609.5" stroke="#1a1a1a" stroke-width="2.7" stroke-linecap="butt"/>
<rect x="1490.1" y="1406.2" width="12" height="12" fill="#00D68E"/>
<rect x="1498.5" y="1426.6" width="12" height="12" fill="#00D68E"/>
<rect x="1481.2" y="1439.7" width="12" height="12" fill="#00D68E"/>
<rect x="1490.1" y="1496.7" width="12" height="12" fill="#00D68E"/>
<rect x="1490.1" y="1598.9" width="12" height="12" fill="#00D68E"/>
<line x1="1496.1" y1="1402.5" x2="1496.1" y2="1556.7" stroke="#1a1a1a" stroke-width="2.7" stroke-linecap="butt"/>
<line x1="1483.1" y1="1402.5" x2="1509.1" y2="1402.5" stroke="#1a1a1a" stroke-width="2.7" stroke-linecap="butt"/>
<line x1="1483.1" y1="1556.7" x2="1509.1" y2="1556.7" stroke="#1a1a1a" stroke-width="2.7" stroke-linecap="butt"/>
<path d="M1570.8 1613.4L1583.2 1613.4L1577 1602.4Z" fill="#00008F"/>
<path d="M1651.4 1600.2L1663.7 1600.2L1657.6 1611.2Z" fill="#0000FF"/>
<line x1="1804.3" y1="1603.4" x2="2217" y2="1603.4" stroke="#000" stroke-width="4" stroke-linecap="butt"/>
<line x1="1811.9" y1="1378.6" x2="1811.9" y2="1649.5" stroke="#000" stroke-width="3.1" stroke-linecap="butt"/>
<line x1="1804.3" y1="1647.9" x2="2217" y2="1647.9" stroke="#000" stroke-width="3.1" stroke-linecap="butt"/>
<line x1="1803.4" y1="1380.1" x2="1811.9" y2="1380.1" stroke="#000" stroke-width="3.1" stroke-linecap="butt"/>
<text x="1799" y="1386.9" font-size="20.5" text-anchor="end" fill="#000" font-weight="700" textLength="31.5" lengthAdjust="spacingAndGlyphs" stroke-width="0.3">500</text>
<line x1="1803.4" y1="1424.7" x2="1811.9" y2="1424.7" stroke="#000" stroke-width="3.1" stroke-linecap="butt"/>
<text x="1799" y="1431.4" font-size="20.5" text-anchor="end" fill="#000" font-weight="700" textLength="31.5" lengthAdjust="spacingAndGlyphs" stroke-width="0.3">400</text>
<line x1="1803.4" y1="1469.2" x2="1811.9" y2="1469.2" stroke="#000" stroke-width="3.1" stroke-linecap="butt"/>
<text x="1799" y="1475.9" font-size="20.5" text-anchor="end" fill="#000" font-weight="700" textLength="31.5" lengthAdjust="spacingAndGlyphs" stroke-width="0.3">300</text>
<line x1="1803.4" y1="1513.7" x2="1811.9" y2="1513.7" stroke="#000" stroke-width="3.1" stroke-linecap="butt"/>
<text x="1799" y="1520.5" font-size="20.5" text-anchor="end" fill="#000" font-weight="700" textLength="31.5" lengthAdjust="spacingAndGlyphs" stroke-width="0.3">200</text>
<line x1="1803.4" y1="1558.6" x2="1811.9" y2="1558.6" stroke="#000" stroke-width="3.1" stroke-linecap="butt"/>
<text x="1799" y="1565.3" font-size="20.5" text-anchor="end" fill="#000" font-weight="700" textLength="31.5" lengthAdjust="spacingAndGlyphs" stroke-width="0.3">100</text>
<line x1="1803.4" y1="1603.4" x2="1811.9" y2="1603.4" stroke="#000" stroke-width="3.1" stroke-linecap="butt"/>
<text x="1799" y="1610.1" font-size="20.5" text-anchor="end" fill="#000" font-weight="700" textLength="10.5" lengthAdjust="spacingAndGlyphs" stroke-width="0.3">0</text>
<line x1="1803.4" y1="1647.9" x2="1811.9" y2="1647.9" stroke="#000" stroke-width="3.1" stroke-linecap="butt"/>
<text x="1799" y="1654.7" font-size="20.5" text-anchor="end" fill="#000" font-weight="700" textLength="37.8" lengthAdjust="spacingAndGlyphs" stroke-width="0.3">-100</text>
<line x1="1854" y1="1647.9" x2="1854" y2="1656.4" stroke="#000" stroke-width="3.1" stroke-linecap="butt"/>
<text x="1852.5" y="1676.5" font-size="19.5" text-anchor="middle" fill="#000" font-weight="700" textLength="50.6" lengthAdjust="spacingAndGlyphs" stroke-width="0.3">ALFQ</text>
<line x1="1934.8" y1="1647.9" x2="1934.8" y2="1656.4" stroke="#000" stroke-width="3.1" stroke-linecap="butt"/>
<text x="1934.8" y="1676.5" font-size="19.5" text-anchor="middle" fill="#000" font-weight="700" textLength="10.3" lengthAdjust="spacingAndGlyphs" stroke-width="0.3">3</text>
<line x1="2015.7" y1="1647.9" x2="2015.7" y2="1656.4" stroke="#000" stroke-width="3.1" stroke-linecap="butt"/>
<text x="2015.7" y="1676.5" font-size="19.5" text-anchor="middle" fill="#000" font-weight="700" textLength="20.7" lengthAdjust="spacingAndGlyphs" stroke-width="0.3">10</text>
<line x1="2096.5" y1="1647.9" x2="2096.5" y2="1656.4" stroke="#000" stroke-width="3.1" stroke-linecap="butt"/>
<text x="2096.5" y="1676.5" font-size="19.5" text-anchor="middle" fill="#000" font-weight="700" textLength="10.3" lengthAdjust="spacingAndGlyphs" stroke-width="0.3">3</text>
<line x1="2177.3" y1="1647.9" x2="2177.3" y2="1656.4" stroke="#000" stroke-width="3.1" stroke-linecap="butt"/>
<text x="2177.3" y="1676.5" font-size="19.5" text-anchor="middle" fill="#000" font-weight="700" textLength="20.7" lengthAdjust="spacingAndGlyphs" stroke-width="0.3">10</text>
<line x1="1905.9" y1="1683.6" x2="2052.3" y2="1683.6" stroke="#222" stroke-width="2.6" stroke-linecap="butt"/>
<line x1="2070.6" y1="1683.6" x2="2217" y2="1683.6" stroke="#222" stroke-width="2.6" stroke-linecap="butt"/>
<text x="1976.9" y="1712" font-size="20" text-anchor="middle" fill="#000" textLength="78.5" lengthAdjust="spacingAndGlyphs" stroke-width="0.4">+ALFQ</text>
<text x="2137.7" y="1712" font-size="20" text-anchor="middle" fill="#000" textLength="78.5" lengthAdjust="spacingAndGlyphs" stroke-width="0.4">−ALFQ</text>
<text x="2014.6" y="1738.5" font-size="19.5" text-anchor="middle" fill="#000" font-weight="700" textLength="246.1" lengthAdjust="spacingAndGlyphs" stroke-width="0.3">Immunization dose (<tspan font-family='"Liberation Serif", serif'>μ</tspan>g)</text>
<text x="1750.9" y="1514.3" font-size="19.8" text-anchor="middle" fill="#000" font-weight="700" textLength="308" lengthAdjust="spacingAndGlyphs" transform="rotate(-90 1750.9 1514.3)" stroke-width="0.3">TNF-<tspan font-family='"Liberation Serif", serif'>α</tspan> concentration (pg/mL)</text>
<text x="2015.7" y="1348.9" font-size="23.5" text-anchor="middle" fill="#000" font-weight="700" textLength="73" lengthAdjust="spacingAndGlyphs" stroke-width="0.4">TNF-<tspan font-family='"Liberation Serif", serif'>α</tspan></text>
<path d="M1908.7 1603.4V1515.4H1961V1603.4" fill="none" stroke="#007652" stroke-width="4.8" stroke-linejoin="miter"/>
<path d="M1988.6 1603.4V1530.7H2042.1V1603.4" fill="none" stroke="#00DA92" stroke-width="4.8" stroke-linejoin="miter"/>
<path d="M2070 1603.4V1553.6H2122V1603.4" fill="none" stroke="#00008F" stroke-width="4.8" stroke-linejoin="miter"/>
<path d="M2150.8 1603.4V1551.1H2203.5V1603.4" fill="none" stroke="#0000FF" stroke-width="4.8" stroke-linejoin="miter"/>
<path d="M1828.3 1603.4V1597.3H1880.7V1603.4" fill="none" stroke="#B2B2B6" stroke-width="2.6" stroke-linejoin="miter"/>
<line x1="1854" y1="1589.1" x2="1854" y2="1602.8" stroke="#B2B2B6" stroke-width="2.2" stroke-linecap="butt"/>
<line x1="1845" y1="1589.1" x2="1863" y2="1589.1" stroke="#B2B2B6" stroke-width="2.2" stroke-linecap="butt"/>
<line x1="1845" y1="1602.8" x2="1863" y2="1602.8" stroke="#B2B2B6" stroke-width="2.2" stroke-linecap="butt"/>
<path d="M1848.6 1579.9L1854 1574.5L1859.4 1579.9L1854 1585.3Z" fill="#B2B2B6"/>
<path d="M1828.8 1587.5L1834.2 1582.2L1839.6 1587.5L1834.2 1592.9Z" fill="#B2B2B6"/>
<path d="M1868.5 1593.6L1873.8 1588.3L1879.2 1593.6L1873.8 1599Z" fill="#B2B2B6"/>
<path d="M1834.9 1598.2L1840.3 1592.8L1845.7 1598.2L1840.3 1603.6Z" fill="#B2B2B6"/>
<path d="M1847.1 1601.3L1852.5 1595.9L1857.9 1601.3L1852.5 1606.6Z" fill="#B2B2B6"/>
<path d="M1859.3 1599.7L1864.7 1594.4L1870.1 1599.7L1864.7 1605.1Z" fill="#B2B2B6"/>
<path d="M1874.6 1598.2L1879.9 1592.8L1885.3 1598.2L1879.9 1603.6Z" fill="#B2B2B6"/>
<path d="M1850.2 1604.3L1855.5 1598.9L1860.9 1604.3L1855.5 1609.7Z" fill="#B2B2B6"/>
<circle cx="1927.2" cy="1419.8" r="6.2" fill="#007250"/>
<circle cx="1943.1" cy="1414.6" r="6.2" fill="#007250"/>
<circle cx="1934.8" cy="1503.7" r="6.2" fill="#007250"/>
<circle cx="1943.1" cy="1512.8" r="6.2" fill="#007250"/>
<circle cx="1927.2" cy="1526.5" r="6.2" fill="#007250"/>
<circle cx="1950.7" cy="1535.1" r="6.2" fill="#007250"/>
<circle cx="1918.1" cy="1539.4" r="6.2" fill="#007250"/>
<circle cx="1934.8" cy="1546.4" r="6.2" fill="#007250"/>
<circle cx="1943.1" cy="1569.2" r="6.2" fill="#007250"/>
<circle cx="1926.3" cy="1577.8" r="6.2" fill="#007250"/>
<line x1="1934.8" y1="1458.5" x2="1934.8" y2="1569.9" stroke="#1a1a1a" stroke-width="2.7" stroke-linecap="butt"/>
<line x1="1921.8" y1="1458.5" x2="1947.8" y2="1458.5" stroke="#1a1a1a" stroke-width="2.7" stroke-linecap="butt"/>
<line x1="1921.8" y1="1569.9" x2="1947.8" y2="1569.9" stroke="#1a1a1a" stroke-width="2.7" stroke-linecap="butt"/>
<rect x="2009.7" y="1416.2" width="12" height="12" fill="#00D68E"/>
<rect x="2009.7" y="1462" width="12" height="12" fill="#00D68E"/>
<rect x="2009.7" y="1495.5" width="12" height="12" fill="#00D68E"/>
<rect x="2000.5" y="1507.7" width="12" height="12" fill="#00D68E"/>
<rect x="2017.9" y="1514.4" width="12" height="12" fill="#00D68E"/>
<rect x="1988.3" y="1561.1" width="12" height="12" fill="#00D68E"/>
<rect x="2029.5" y="1563.2" width="12" height="12" fill="#00D68E"/>
<rect x="2000.5" y="1570.9" width="12" height="12" fill="#00D68E"/>
<rect x="2017.9" y="1572.4" width="12" height="12" fill="#00D68E"/>
<rect x="2009.7" y="1577" width="12" height="12" fill="#00D68E"/>
<line x1="2015.7" y1="1475.3" x2="2015.7" y2="1584.5" stroke="#1a1a1a" stroke-width="2.7" stroke-linecap="butt"/>
<line x1="2002.7" y1="1475.3" x2="2028.7" y2="1475.3" stroke="#1a1a1a" stroke-width="2.7" stroke-linecap="butt"/>
<line x1="2002.7" y1="1584.5" x2="2028.7" y2="1584.5" stroke="#1a1a1a" stroke-width="2.7" stroke-linecap="butt"/>
<path d="M2090.3 1514.4L2102.6 1514.4L2096.5 1503.4Z" fill="#00008F"/>
<path d="M2106.2 1552.6L2118.5 1552.6L2112.3 1541.6Z" fill="#00008F"/>
<path d="M2072.9 1563.2L2085.3 1563.2L2079.1 1552.2Z" fill="#00008F"/>
<path d="M2090.3 1569.3L2102.6 1569.3L2096.5 1558.3Z" fill="#00008F"/>
<path d="M2090.3 1590.7L2102.6 1590.7L2096.5 1579.7Z" fill="#00008F"/>
<line x1="2096.5" y1="1525" x2="2096.5" y2="1580.5" stroke="#1a1a1a" stroke-width="2.7" stroke-linecap="butt"/>
<line x1="2083.5" y1="1525" x2="2109.5" y2="1525" stroke="#1a1a1a" stroke-width="2.7" stroke-linecap="butt"/>
<line x1="2083.5" y1="1580.5" x2="2109.5" y2="1580.5" stroke="#1a1a1a" stroke-width="2.7" stroke-linecap="butt"/>
<path d="M2171.1 1482.2L2183.5 1482.2L2177.3 1493.2Z" fill="#0000FF"/>
<path d="M2154.4 1556.9L2166.7 1556.9L2160.5 1567.9Z" fill="#0000FF"/>
<path d="M2187 1560L2199.3 1560L2193.2 1571Z" fill="#0000FF"/>
<path d="M2171.1 1570.7L2183.5 1570.7L2177.3 1581.7Z" fill="#0000FF"/>
<line x1="2177.3" y1="1513.7" x2="2177.3" y2="1585.1" stroke="#1a1a1a" stroke-width="2.7" stroke-linecap="butt"/>
<line x1="2164.3" y1="1513.7" x2="2190.3" y2="1513.7" stroke="#1a1a1a" stroke-width="2.7" stroke-linecap="butt"/>
<line x1="2164.3" y1="1585.1" x2="2190.3" y2="1585.1" stroke="#1a1a1a" stroke-width="2.7" stroke-linecap="butt"/>
<line x1="215.1" y1="2036.4" x2="631" y2="2036.4" stroke="#000" stroke-width="3.8" stroke-linecap="butt"/>
<line x1="222.8" y1="1818.2" x2="222.8" y2="2091.9" stroke="#000" stroke-width="3.1" stroke-linecap="butt"/>
<line x1="215.1" y1="2090.4" x2="631" y2="2090.4" stroke="#000" stroke-width="3.1" stroke-linecap="butt"/>
<line x1="214.3" y1="1819.8" x2="222.8" y2="1819.8" stroke="#000" stroke-width="3.1" stroke-linecap="butt"/>
<text x="210.6" y="1826.5" font-size="20.5" text-anchor="end" fill="#000" font-weight="700" textLength="21" lengthAdjust="spacingAndGlyphs" stroke-width="0.3">20</text>
<line x1="214.3" y1="1874.1" x2="222.8" y2="1874.1" stroke="#000" stroke-width="3.1" stroke-linecap="butt"/>
<text x="210.6" y="1880.8" font-size="20.5" text-anchor="end" fill="#000" font-weight="700" textLength="21" lengthAdjust="spacingAndGlyphs" stroke-width="0.3">15</text>
<line x1="214.3" y1="1928.5" x2="222.8" y2="1928.5" stroke="#000" stroke-width="3.1" stroke-linecap="butt"/>
<text x="210.6" y="1935.2" font-size="20.5" text-anchor="end" fill="#000" font-weight="700" textLength="21" lengthAdjust="spacingAndGlyphs" stroke-width="0.3">10</text>
<line x1="214.3" y1="1982.4" x2="222.8" y2="1982.4" stroke="#000" stroke-width="3.1" stroke-linecap="butt"/>
<text x="210.6" y="1989.2" font-size="20.5" text-anchor="end" fill="#000" font-weight="700" textLength="10.5" lengthAdjust="spacingAndGlyphs" stroke-width="0.3">5</text>
<line x1="214.3" y1="2036.4" x2="222.8" y2="2036.4" stroke="#000" stroke-width="3.1" stroke-linecap="butt"/>
<text x="210.6" y="2043.1" font-size="20.5" text-anchor="end" fill="#000" font-weight="700" textLength="10.5" lengthAdjust="spacingAndGlyphs" stroke-width="0.3">0</text>
<line x1="214.3" y1="2090.4" x2="222.8" y2="2090.4" stroke="#000" stroke-width="3.1" stroke-linecap="butt"/>
<text x="210.6" y="2097.1" font-size="20.5" text-anchor="end" fill="#000" font-weight="700" textLength="16.8" lengthAdjust="spacingAndGlyphs" stroke-width="0.3">-5</text>
<line x1="264.1" y1="2090.4" x2="264.1" y2="2098.9" stroke="#000" stroke-width="3.1" stroke-linecap="butt"/>
<text x="262.6" y="2119.8" font-size="19.5" text-anchor="middle" fill="#000" font-weight="700" textLength="50.6" lengthAdjust="spacingAndGlyphs" stroke-width="0.3">ALFQ</text>
<line x1="345" y1="2090.4" x2="345" y2="2098.9" stroke="#000" stroke-width="3.1" stroke-linecap="butt"/>
<text x="345" y="2119.8" font-size="19.5" text-anchor="middle" fill="#000" font-weight="700" textLength="10.3" lengthAdjust="spacingAndGlyphs" stroke-width="0.3">3</text>
<line x1="426.7" y1="2090.4" x2="426.7" y2="2098.9" stroke="#000" stroke-width="3.1" stroke-linecap="butt"/>
<text x="426.7" y="2119.8" font-size="19.5" text-anchor="middle" fill="#000" font-weight="700" textLength="20.7" lengthAdjust="spacingAndGlyphs" stroke-width="0.3">10</text>
<line x1="508.1" y1="2090.4" x2="508.1" y2="2098.9" stroke="#000" stroke-width="3.1" stroke-linecap="butt"/>
<text x="508.1" y="2119.8" font-size="19.5" text-anchor="middle" fill="#000" font-weight="700" textLength="10.3" lengthAdjust="spacingAndGlyphs" stroke-width="0.3">3</text>
<line x1="589" y1="2090.4" x2="589" y2="2098.9" stroke="#000" stroke-width="3.1" stroke-linecap="butt"/>
<text x="589" y="2119.8" font-size="19.5" text-anchor="middle" fill="#000" font-weight="700" textLength="20.7" lengthAdjust="spacingAndGlyphs" stroke-width="0.3">10</text>
<line x1="319.2" y1="2125.4" x2="466.4" y2="2125.4" stroke="#222" stroke-width="2.6" stroke-linecap="butt"/>
<line x1="484.9" y1="2125.4" x2="632.2" y2="2125.4" stroke="#222" stroke-width="2.6" stroke-linecap="butt"/>
<text x="386.6" y="2155.1" font-size="20" text-anchor="middle" fill="#000" textLength="78.5" lengthAdjust="spacingAndGlyphs" stroke-width="0.4">+ALFQ</text>
<text x="561.7" y="2153.2" font-size="20" text-anchor="middle" fill="#000" textLength="78.5" lengthAdjust="spacingAndGlyphs" stroke-width="0.4">−ALFQ</text>
<text x="426.2" y="2181" font-size="19.5" text-anchor="middle" fill="#000" font-weight="700" textLength="248.6" lengthAdjust="spacingAndGlyphs" stroke-width="0.3">Immunization dose (<tspan font-family='"Liberation Serif", serif'>μ</tspan>g)</text>
<text x="175.6" y="1953.7" font-size="19.8" text-anchor="middle" fill="#000" font-weight="700" textLength="283.3" lengthAdjust="spacingAndGlyphs" transform="rotate(-90 175.6 1953.7)" stroke-width="0.3">IL-4 concentration (pg/mL)</text>
<text x="426" y="1786.9" font-size="23.5" text-anchor="middle" fill="#000" font-weight="700" textLength="46" lengthAdjust="spacingAndGlyphs" stroke-width="0.4">IL-4</text>
<path d="M318.8 2036.4V2005.3H372.8V2036.4" fill="none" stroke="#007652" stroke-width="4.8" stroke-linejoin="miter"/>
<path d="M400.1 2036.4V1986.4H453.7V2036.4" fill="none" stroke="#00DA92" stroke-width="4.8" stroke-linejoin="miter"/>
<path d="M561.9 2036.4V2032.6H615.8V2036.4" fill="none" stroke="#0000FF" stroke-width="3" stroke-linejoin="miter"/>
<circle cx="247" cy="2036.8" r="4.3" fill="#B2B2B6"/>
<circle cx="252.2" cy="2036.8" r="4.3" fill="#B2B2B6"/>
<circle cx="257.4" cy="2036.8" r="4.3" fill="#B2B2B6"/>
<circle cx="262.6" cy="2036.8" r="4.3" fill="#B2B2B6"/>
<circle cx="267.8" cy="2036.8" r="4.3" fill="#B2B2B6"/>
<circle cx="273" cy="2036.8" r="4.3" fill="#B2B2B6"/>
<circle cx="278.2" cy="2036.8" r="4.3" fill="#B2B2B6"/>
<circle cx="283.4" cy="2036.8" r="4.3" fill="#B2B2B6"/>
<circle cx="345.8" cy="1939.3" r="6.2" fill="#007250"/>
<circle cx="337.3" cy="1971.2" r="6.2" fill="#007250"/>
<circle cx="354.7" cy="1971.2" r="6.2" fill="#007250"/>
<circle cx="329.6" cy="2013.7" r="6.2" fill="#007250"/>
<circle cx="345" cy="2017.5" r="6.2" fill="#007250"/>
<circle cx="362.4" cy="2012.5" r="6.2" fill="#007250"/>
<circle cx="325.7" cy="2029.8" r="6.2" fill="#007250"/>
<circle cx="339.2" cy="2033.7" r="6.2" fill="#007250"/>
<circle cx="352.7" cy="2031.8" r="6.2" fill="#007250"/>
<circle cx="366.2" cy="2029.8" r="6.2" fill="#007250"/>
<line x1="345" y1="1971.6" x2="345" y2="2036.4" stroke="#1a1a1a" stroke-width="2.7" stroke-linecap="butt"/>
<line x1="332" y1="1971.6" x2="358" y2="1971.6" stroke="#1a1a1a" stroke-width="2.7" stroke-linecap="butt"/>
<rect x="421.1" y="1866.9" width="12" height="12" fill="#00D68E"/>
<rect x="421.1" y="1908.2" width="12" height="12" fill="#00D68E"/>
<rect x="421.1" y="1942.9" width="12" height="12" fill="#00D68E"/>
<rect x="420" y="1979.5" width="12" height="12" fill="#00D68E"/>
<rect x="420" y="2000.7" width="12" height="12" fill="#00D68E"/>
<rect x="402.6" y="2013" width="12" height="12" fill="#00D68E"/>
<rect x="439.2" y="2013" width="12" height="12" fill="#00D68E"/>
<rect x="410.3" y="2021.9" width="12" height="12" fill="#00D68E"/>
<rect x="429.6" y="2021.9" width="12" height="12" fill="#00D68E"/>
<rect x="420" y="2029.6" width="12" height="12" fill="#00D68E"/>
<line x1="426.7" y1="1929.6" x2="426.7" y2="2041.4" stroke="#1a1a1a" stroke-width="2.7" stroke-linecap="butt"/>
<line x1="413.7" y1="1929.6" x2="439.7" y2="1929.6" stroke="#1a1a1a" stroke-width="2.7" stroke-linecap="butt"/>
<line x1="413.7" y1="2041.4" x2="439.7" y2="2041.4" stroke="#1a1a1a" stroke-width="2.7" stroke-linecap="butt"/>
<path d="M481.9 2039.1L494.2 2039.1L488.1 2028.1Z" fill="#00008F"/>
<path d="M489.9 2039.1L502.2 2039.1L496.1 2028.1Z" fill="#00008F"/>
<path d="M497.9 2039.1L510.2 2039.1L504.1 2028.1Z" fill="#00008F"/>
<path d="M505.9 2039.1L518.2 2039.1L512.1 2028.1Z" fill="#00008F"/>
<path d="M513.9 2039.1L526.2 2039.1L520.1 2028.1Z" fill="#00008F"/>
<path d="M521.9 2039.1L534.2 2039.1L528.1 2028.1Z" fill="#00008F"/>
<line x1="493.4" y1="2035.2" x2="522.3" y2="2035.2" stroke="#111" stroke-width="2.5" stroke-linecap="butt"/>
<path d="M582.9 2012.8L595.2 2012.8L589 2023.8Z" fill="#0000FF"/>
<path d="M562.4 2027.1L574.8 2027.1L568.6 2038.1Z" fill="#0000FF"/>
<path d="M604.8 2023.2L617.2 2023.2L611 2034.2Z" fill="#0000FF"/>
<path d="M575.9 2031L588.2 2031L582.1 2042Z" fill="#0000FF"/>
<path d="M591.3 2029.8L603.7 2029.8L597.5 2040.8Z" fill="#0000FF"/>
<line x1="589" y1="2024.1" x2="589" y2="2035.6" stroke="#1a1a1a" stroke-width="2.7" stroke-linecap="butt"/>
<line x1="578" y1="2024.1" x2="600" y2="2024.1" stroke="#1a1a1a" stroke-width="2.7" stroke-linecap="butt"/>
<line x1="767.9" y1="2047.6" x2="1176.6" y2="2047.6" stroke="#1a1a1a" stroke-width="2.2" stroke-linecap="butt"/>
<line x1="767.9" y1="1820.1" x2="767.9" y2="2093.8" stroke="#000" stroke-width="3.1" stroke-linecap="butt"/>
<line x1="760.2" y1="2092.3" x2="1176.6" y2="2092.3" stroke="#000" stroke-width="3.1" stroke-linecap="butt"/>
<line x1="759.4" y1="1821.7" x2="767.9" y2="1821.7" stroke="#000" stroke-width="3.1" stroke-linecap="butt"/>
<text x="754.5" y="1828.4" font-size="20.5" text-anchor="end" fill="#000" font-weight="700" textLength="42" lengthAdjust="spacingAndGlyphs" stroke-width="0.3">1000</text>
<line x1="759.4" y1="1866.8" x2="767.9" y2="1866.8" stroke="#000" stroke-width="3.1" stroke-linecap="butt"/>
<text x="754.5" y="1873.5" font-size="20.5" text-anchor="end" fill="#000" font-weight="700" textLength="31.5" lengthAdjust="spacingAndGlyphs" stroke-width="0.3">800</text>
<line x1="759.4" y1="1911.9" x2="767.9" y2="1911.9" stroke="#000" stroke-width="3.1" stroke-linecap="butt"/>
<text x="754.5" y="1918.6" font-size="20.5" text-anchor="end" fill="#000" font-weight="700" textLength="31.5" lengthAdjust="spacingAndGlyphs" stroke-width="0.3">600</text>
<line x1="759.4" y1="1957.4" x2="767.9" y2="1957.4" stroke="#000" stroke-width="3.1" stroke-linecap="butt"/>
<text x="754.5" y="1964.1" font-size="20.5" text-anchor="end" fill="#000" font-weight="700" textLength="31.5" lengthAdjust="spacingAndGlyphs" stroke-width="0.3">400</text>
<line x1="759.4" y1="2002.5" x2="767.9" y2="2002.5" stroke="#000" stroke-width="3.1" stroke-linecap="butt"/>
<text x="754.5" y="2009.2" font-size="20.5" text-anchor="end" fill="#000" font-weight="700" textLength="31.5" lengthAdjust="spacingAndGlyphs" stroke-width="0.3">200</text>
<line x1="759.4" y1="2047.6" x2="767.9" y2="2047.6" stroke="#000" stroke-width="3.1" stroke-linecap="butt"/>
<text x="754.5" y="2054.3" font-size="20.5" text-anchor="end" fill="#000" font-weight="700" textLength="10.5" lengthAdjust="spacingAndGlyphs" stroke-width="0.3">0</text>
<line x1="759.4" y1="2092.3" x2="767.9" y2="2092.3" stroke="#000" stroke-width="3.1" stroke-linecap="butt"/>
<text x="754.5" y="2099" font-size="20.5" text-anchor="end" fill="#000" font-weight="700" textLength="37.8" lengthAdjust="spacingAndGlyphs" stroke-width="0.3">-200</text>
<line x1="809.2" y1="2092.3" x2="809.2" y2="2100.8" stroke="#000" stroke-width="3.1" stroke-linecap="butt"/>
<text x="807.7" y="2122.1" font-size="19.5" text-anchor="middle" fill="#000" font-weight="700" textLength="50.6" lengthAdjust="spacingAndGlyphs" stroke-width="0.3">ALFQ</text>
<line x1="890.5" y1="2092.3" x2="890.5" y2="2100.8" stroke="#000" stroke-width="3.1" stroke-linecap="butt"/>
<text x="890.5" y="2122.1" font-size="19.5" text-anchor="middle" fill="#000" font-weight="700" textLength="10.3" lengthAdjust="spacingAndGlyphs" stroke-width="0.3">3</text>
<line x1="972.2" y1="2092.3" x2="972.2" y2="2100.8" stroke="#000" stroke-width="3.1" stroke-linecap="butt"/>
<text x="972.2" y="2122.1" font-size="19.5" text-anchor="middle" fill="#000" font-weight="700" textLength="20.7" lengthAdjust="spacingAndGlyphs" stroke-width="0.3">10</text>
<line x1="1053.2" y1="2092.3" x2="1053.2" y2="2100.8" stroke="#000" stroke-width="3.1" stroke-linecap="butt"/>
<text x="1053.2" y="2122.1" font-size="19.5" text-anchor="middle" fill="#000" font-weight="700" textLength="10.3" lengthAdjust="spacingAndGlyphs" stroke-width="0.3">3</text>
<line x1="1134.9" y1="2092.3" x2="1134.9" y2="2100.8" stroke="#000" stroke-width="3.1" stroke-linecap="butt"/>
<text x="1134.9" y="2122.1" font-size="19.5" text-anchor="middle" fill="#000" font-weight="700" textLength="20.7" lengthAdjust="spacingAndGlyphs" stroke-width="0.3">10</text>
<line x1="865.5" y1="2128.1" x2="1011.6" y2="2128.1" stroke="#222" stroke-width="2.6" stroke-linecap="butt"/>
<line x1="1030.8" y1="2128.1" x2="1177.3" y2="2128.1" stroke="#222" stroke-width="2.6" stroke-linecap="butt"/>
<text x="938.3" y="2156.3" font-size="20" text-anchor="middle" fill="#000" textLength="78.5" lengthAdjust="spacingAndGlyphs" stroke-width="0.4">+ALFQ</text>
<text x="1096.8" y="2154" font-size="20" text-anchor="middle" fill="#000" textLength="78.5" lengthAdjust="spacingAndGlyphs" stroke-width="0.4">−ALFQ</text>
<text x="971.3" y="2183.3" font-size="19.5" text-anchor="middle" fill="#000" font-weight="700" textLength="248.6" lengthAdjust="spacingAndGlyphs" stroke-width="0.3">Immunization dose (<tspan font-family='"Liberation Serif", serif'>μ</tspan>g)</text>
<text x="700.7" y="1957" font-size="19.8" text-anchor="middle" fill="#000" font-weight="700" textLength="282.2" lengthAdjust="spacingAndGlyphs" transform="rotate(-90 700.7 1957)" stroke-width="0.3">IL-5 concentration (pg/mL)</text>
<text x="971.5" y="1788.5" font-size="23.5" text-anchor="middle" fill="#000" font-weight="700" textLength="43.5" lengthAdjust="spacingAndGlyphs" stroke-width="0.4">IL-5</text>
<path d="M864.3 2047.6V2004.6H917.1V2047.6" fill="none" stroke="#007652" stroke-width="4.8" stroke-linejoin="miter"/>
<path d="M945.2 2047.6V1988.4H999.3V2047.6" fill="none" stroke="#00DA92" stroke-width="4.8" stroke-linejoin="miter"/>
<circle cx="791.7" cy="2048.3" r="4.3" fill="#B2B2B6"/>
<circle cx="796.7" cy="2048.3" r="4.3" fill="#B2B2B6"/>
<circle cx="801.7" cy="2048.3" r="4.3" fill="#B2B2B6"/>
<circle cx="806.7" cy="2048.3" r="4.3" fill="#B2B2B6"/>
<circle cx="811.7" cy="2048.3" r="4.3" fill="#B2B2B6"/>
<circle cx="816.7" cy="2048.3" r="4.3" fill="#B2B2B6"/>
<circle cx="821.7" cy="2048.3" r="4.3" fill="#B2B2B6"/>
<circle cx="826.7" cy="2048.3" r="4.3" fill="#B2B2B6"/>
<circle cx="890.5" cy="1875.6" r="6.2" fill="#007250"/>
<circle cx="890.5" cy="1922.7" r="6.2" fill="#007250"/>
<circle cx="890.5" cy="1972" r="6.2" fill="#007250"/>
<circle cx="882.8" cy="2024.1" r="6.2" fill="#007250"/>
<circle cx="899" cy="2028.7" r="6.2" fill="#007250"/>
<circle cx="871.2" cy="2032.9" r="6.2" fill="#007250"/>
<circle cx="909.8" cy="2043.3" r="6.2" fill="#007250"/>
<circle cx="880.5" cy="2045.3" r="6.2" fill="#007250"/>
<circle cx="890.5" cy="2048.3" r="6.2" fill="#007250"/>
<circle cx="899.8" cy="2047.2" r="6.2" fill="#007250"/>
<line x1="890.5" y1="1943.1" x2="890.5" y2="2064.5" stroke="#1a1a1a" stroke-width="2.7" stroke-linecap="butt"/>
<line x1="877.5" y1="1943.1" x2="903.5" y2="1943.1" stroke="#1a1a1a" stroke-width="2.7" stroke-linecap="butt"/>
<line x1="877.5" y1="2064.5" x2="903.5" y2="2064.5" stroke="#1a1a1a" stroke-width="2.7" stroke-linecap="butt"/>
<rect x="966.2" y="1863.1" width="12" height="12" fill="#00D68E"/>
<rect x="957.8" y="1901.6" width="12" height="12" fill="#00D68E"/>
<rect x="974.7" y="1903.6" width="12" height="12" fill="#00D68E"/>
<rect x="966.2" y="1960.2" width="12" height="12" fill="#00D68E"/>
<rect x="966.2" y="2002.6" width="12" height="12" fill="#00D68E"/>
<rect x="947" y="2026.9" width="12" height="12" fill="#00D68E"/>
<rect x="956.6" y="2037.3" width="12" height="12" fill="#00D68E"/>
<rect x="966.2" y="2042.3" width="12" height="12" fill="#00D68E"/>
<rect x="975.9" y="2040" width="12" height="12" fill="#00D68E"/>
<rect x="985.5" y="2037.3" width="12" height="12" fill="#00D68E"/>
<line x1="972.2" y1="1918.1" x2="972.2" y2="2056.8" stroke="#1a1a1a" stroke-width="2.7" stroke-linecap="butt"/>
<line x1="959.2" y1="1918.1" x2="985.2" y2="1918.1" stroke="#1a1a1a" stroke-width="2.7" stroke-linecap="butt"/>
<line x1="959.2" y1="2056.8" x2="985.2" y2="2056.8" stroke="#1a1a1a" stroke-width="2.7" stroke-linecap="butt"/>
<path d="M1027 2051.9L1039.4 2051.9L1033.2 2040.9Z" fill="#00008F"/>
<path d="M1035 2051.9L1047.4 2051.9L1041.2 2040.9Z" fill="#00008F"/>
<path d="M1043 2051.9L1055.4 2051.9L1049.2 2040.9Z" fill="#00008F"/>
<path d="M1051 2051.9L1063.4 2051.9L1057.2 2040.9Z" fill="#00008F"/>
<path d="M1059 2051.9L1071.4 2051.9L1065.2 2040.9Z" fill="#00008F"/>
<path d="M1067 2051.9L1079.4 2051.9L1073.2 2040.9Z" fill="#00008F"/>
<line x1="1037.8" y1="2048.3" x2="1068.6" y2="2048.3" stroke="#111" stroke-width="2.5" stroke-linecap="butt"/>
<path d="M1109.9 2032.1L1122.2 2032.1L1116 2043.1Z" fill="#0000FF"/>
<path d="M1115.8 2041.4L1128.2 2041.4L1122 2052.4Z" fill="#0000FF"/>
<path d="M1123.8 2041.4L1136.2 2041.4L1130 2052.4Z" fill="#0000FF"/>
<path d="M1131.8 2041.4L1144.2 2041.4L1138 2052.4Z" fill="#0000FF"/>
<path d="M1139.8 2041.4L1152.2 2041.4L1146 2052.4Z" fill="#0000FF"/>
<path d="M1147.8 2041.4L1160.2 2041.4L1154 2052.4Z" fill="#0000FF"/>
<line x1="1122.6" y1="2046" x2="1153.4" y2="2046" stroke="#111" stroke-width="2.5" stroke-linecap="butt"/>
<line x1="237.8" y1="2485.7" x2="644.5" y2="2485.7" stroke="#1a1a1a" stroke-width="2.2" stroke-linecap="butt"/>
<line x1="237.8" y1="2258.3" x2="237.8" y2="2532" stroke="#000" stroke-width="3.1" stroke-linecap="butt"/>
<line x1="230.1" y1="2530.4" x2="644.5" y2="2530.4" stroke="#000" stroke-width="3.1" stroke-linecap="butt"/>
<line x1="229.3" y1="2259.8" x2="237.8" y2="2259.8" stroke="#000" stroke-width="3.1" stroke-linecap="butt"/>
<text x="224.8" y="2266.6" font-size="20.5" text-anchor="end" fill="#000" font-weight="700" textLength="31.5" lengthAdjust="spacingAndGlyphs" stroke-width="0.3">500</text>
<line x1="229.3" y1="2304.9" x2="237.8" y2="2304.9" stroke="#000" stroke-width="3.1" stroke-linecap="butt"/>
<text x="224.8" y="2311.7" font-size="20.5" text-anchor="end" fill="#000" font-weight="700" textLength="31.5" lengthAdjust="spacingAndGlyphs" stroke-width="0.3">400</text>
<line x1="229.3" y1="2350.4" x2="237.8" y2="2350.4" stroke="#000" stroke-width="3.1" stroke-linecap="butt"/>
<text x="224.8" y="2357.2" font-size="20.5" text-anchor="end" fill="#000" font-weight="700" textLength="31.5" lengthAdjust="spacingAndGlyphs" stroke-width="0.3">300</text>
<line x1="229.3" y1="2395.5" x2="237.8" y2="2395.5" stroke="#000" stroke-width="3.1" stroke-linecap="butt"/>
<text x="224.8" y="2402.3" font-size="20.5" text-anchor="end" fill="#000" font-weight="700" textLength="31.5" lengthAdjust="spacingAndGlyphs" stroke-width="0.3">200</text>
<line x1="229.3" y1="2440.6" x2="237.8" y2="2440.6" stroke="#000" stroke-width="3.1" stroke-linecap="butt"/>
<text x="224.8" y="2447.4" font-size="20.5" text-anchor="end" fill="#000" font-weight="700" textLength="31.5" lengthAdjust="spacingAndGlyphs" stroke-width="0.3">100</text>
<line x1="229.3" y1="2485.7" x2="237.8" y2="2485.7" stroke="#000" stroke-width="3.1" stroke-linecap="butt"/>
<text x="224.8" y="2492.5" font-size="20.5" text-anchor="end" fill="#000" font-weight="700" textLength="10.5" lengthAdjust="spacingAndGlyphs" stroke-width="0.3">0</text>
<line x1="229.3" y1="2530.4" x2="237.8" y2="2530.4" stroke="#000" stroke-width="3.1" stroke-linecap="butt"/>
<text x="224.8" y="2537.2" font-size="20.5" text-anchor="end" fill="#000" font-weight="700" textLength="37.8" lengthAdjust="spacingAndGlyphs" stroke-width="0.3">-100</text>
<line x1="279.5" y1="2530.4" x2="279.5" y2="2538.9" stroke="#000" stroke-width="3.1" stroke-linecap="butt"/>
<text x="278" y="2559.9" font-size="19.5" text-anchor="middle" fill="#000" font-weight="700" textLength="50.6" lengthAdjust="spacingAndGlyphs" stroke-width="0.3">ALFQ</text>
<line x1="360.4" y1="2530.4" x2="360.4" y2="2538.9" stroke="#000" stroke-width="3.1" stroke-linecap="butt"/>
<text x="360.4" y="2559.9" font-size="19.5" text-anchor="middle" fill="#000" font-weight="700" textLength="10.3" lengthAdjust="spacingAndGlyphs" stroke-width="0.3">3</text>
<line x1="442.2" y1="2530.4" x2="442.2" y2="2538.9" stroke="#000" stroke-width="3.1" stroke-linecap="butt"/>
<text x="442.2" y="2559.9" font-size="19.5" text-anchor="middle" fill="#000" font-weight="700" textLength="20.7" lengthAdjust="spacingAndGlyphs" stroke-width="0.3">10</text>
<line x1="523.1" y1="2530.4" x2="523.1" y2="2538.9" stroke="#000" stroke-width="3.1" stroke-linecap="butt"/>
<text x="523.1" y="2559.9" font-size="19.5" text-anchor="middle" fill="#000" font-weight="700" textLength="10.3" lengthAdjust="spacingAndGlyphs" stroke-width="0.3">3</text>
<line x1="604.1" y1="2530.4" x2="604.1" y2="2538.9" stroke="#000" stroke-width="3.1" stroke-linecap="butt"/>
<text x="604.1" y="2559.9" font-size="19.5" text-anchor="middle" fill="#000" font-weight="700" textLength="20.7" lengthAdjust="spacingAndGlyphs" stroke-width="0.3">10</text>
<line x1="330.8" y1="2566.3" x2="478.8" y2="2566.3" stroke="#222" stroke-width="2.6" stroke-linecap="butt"/>
<line x1="497.3" y1="2566.3" x2="644.5" y2="2566.3" stroke="#222" stroke-width="2.6" stroke-linecap="butt"/>
<text x="402.8" y="2598.7" font-size="20" text-anchor="middle" fill="#000" textLength="78.5" lengthAdjust="spacingAndGlyphs" stroke-width="0.4">+ALFQ</text>
<text x="566.7" y="2596" font-size="20" text-anchor="middle" fill="#000" textLength="78.5" lengthAdjust="spacingAndGlyphs" stroke-width="0.4">−ALFQ</text>
<text x="440.8" y="2621" font-size="19.5" text-anchor="middle" fill="#000" font-weight="700" textLength="247.9" lengthAdjust="spacingAndGlyphs" stroke-width="0.3">Immunization dose (<tspan font-family='"Liberation Serif", serif'>μ</tspan>g)</text>
<text x="171.7" y="2395.5" font-size="19.8" text-anchor="middle" fill="#000" font-weight="700" textLength="281.4" lengthAdjust="spacingAndGlyphs" transform="rotate(-90 171.7 2395.5)" stroke-width="0.3">IL-6 concentration (pg/mL)</text>
<text x="440.2" y="2228.5" font-size="23.5" text-anchor="middle" fill="#000" font-weight="700" textLength="44.5" lengthAdjust="spacingAndGlyphs" stroke-width="0.4">IL-6</text>
<path d="M334.2 2485.7V2428.1H386.3V2485.7" fill="none" stroke="#007652" stroke-width="4.8" stroke-linejoin="miter"/>
<path d="M415.1 2485.7V2438.5H468.4V2485.7" fill="none" stroke="#00DA92" stroke-width="4.8" stroke-linejoin="miter"/>
<path d="M496.5 2485.7V2471.6H549.4V2485.7" fill="none" stroke="#00008F" stroke-width="4.8" stroke-linejoin="miter"/>
<path d="M577.4 2485.7V2471.6H630.3V2485.7" fill="none" stroke="#0000FF" stroke-width="4.8" stroke-linejoin="miter"/>
<path d="M256.1 2484.6L261.5 2479.2L266.9 2484.6L261.5 2490Z" fill="#B2B2B6"/>
<path d="M262.1 2484.6L267.5 2479.2L272.9 2484.6L267.5 2490Z" fill="#B2B2B6"/>
<path d="M268.1 2484.6L273.5 2479.2L278.9 2484.6L273.5 2490Z" fill="#B2B2B6"/>
<path d="M274.1 2484.6L279.5 2479.2L284.9 2484.6L279.5 2490Z" fill="#B2B2B6"/>
<path d="M280.1 2484.6L285.5 2479.2L290.9 2484.6L285.5 2490Z" fill="#B2B2B6"/>
<path d="M286.1 2484.6L291.5 2479.2L296.9 2484.6L291.5 2490Z" fill="#B2B2B6"/>
<path d="M292.1 2484.6L297.5 2479.2L302.9 2484.6L297.5 2490Z" fill="#B2B2B6"/>
<path d="M266.4 2480.3L271.8 2475L277.1 2480.3L271.8 2485.7Z" fill="#B2B2B6"/>
<path d="M281.8 2480.3L287.2 2475L292.6 2480.3L287.2 2485.7Z" fill="#B2B2B6"/>
<circle cx="360.4" cy="2301.9" r="6.2" fill="#007250"/>
<circle cx="360.4" cy="2363.5" r="6.2" fill="#007250"/>
<circle cx="360.4" cy="2396.7" r="6.2" fill="#007250"/>
<circle cx="350.8" cy="2430.2" r="6.2" fill="#007250"/>
<circle cx="368.9" cy="2427.5" r="6.2" fill="#007250"/>
<circle cx="350.8" cy="2461.1" r="6.2" fill="#007250"/>
<circle cx="368.9" cy="2463" r="6.2" fill="#007250"/>
<circle cx="343.1" cy="2468" r="6.2" fill="#007250"/>
<circle cx="377" cy="2473.8" r="6.2" fill="#007250"/>
<circle cx="360.4" cy="2484.2" r="6.2" fill="#007250"/>
<line x1="360.4" y1="2368.5" x2="360.4" y2="2485.3" stroke="#1a1a1a" stroke-width="2.7" stroke-linecap="butt"/>
<line x1="347.4" y1="2368.5" x2="373.4" y2="2368.5" stroke="#1a1a1a" stroke-width="2.7" stroke-linecap="butt"/>
<line x1="347.4" y1="2485.3" x2="373.4" y2="2485.3" stroke="#1a1a1a" stroke-width="2.7" stroke-linecap="butt"/>
<rect x="436.2" y="2292.4" width="12" height="12" fill="#00D68E"/>
<rect x="427.7" y="2391.5" width="12" height="12" fill="#00D68E"/>
<rect x="444.3" y="2394.5" width="12" height="12" fill="#00D68E"/>
<rect x="436.2" y="2426.9" width="12" height="12" fill="#00D68E"/>
<rect x="436.2" y="2457" width="12" height="12" fill="#00D68E"/>
<rect x="418" y="2462" width="12" height="12" fill="#00D68E"/>
<rect x="454.7" y="2466.6" width="12" height="12" fill="#00D68E"/>
<rect x="425.7" y="2470.5" width="12" height="12" fill="#00D68E"/>
<rect x="445" y="2470.5" width="12" height="12" fill="#00D68E"/>
<rect x="436.2" y="2476.3" width="12" height="12" fill="#00D68E"/>
<line x1="442.2" y1="2378.2" x2="442.2" y2="2495.8" stroke="#1a1a1a" stroke-width="2.7" stroke-linecap="butt"/>
<line x1="429.2" y1="2378.2" x2="455.2" y2="2378.2" stroke="#1a1a1a" stroke-width="2.7" stroke-linecap="butt"/>
<line x1="429.2" y1="2495.8" x2="455.2" y2="2495.8" stroke="#1a1a1a" stroke-width="2.7" stroke-linecap="butt"/>
<path d="M516.9 2452.2L529.3 2452.2L523.1 2441.2Z" fill="#00008F"/>
<path d="M496.9 2477.3L509.2 2477.3L503.1 2466.3Z" fill="#00008F"/>
<path d="M537.4 2476.1L549.7 2476.1L543.5 2465.1Z" fill="#00008F"/>
<path d="M508.5 2486.2L520.8 2486.2L514.6 2475.2Z" fill="#00008F"/>
<path d="M525.8 2486.2L538.1 2486.2L532 2475.2Z" fill="#00008F"/>
<line x1="523.1" y1="2456" x2="523.1" y2="2484.2" stroke="#1a1a1a" stroke-width="2.7" stroke-linecap="butt"/>
<line x1="510.1" y1="2456" x2="536.1" y2="2456" stroke="#1a1a1a" stroke-width="2.7" stroke-linecap="butt"/>
<path d="M597.9 2442.9L610.2 2442.9L604.1 2453.9Z" fill="#0000FF"/>
<path d="M577.9 2469.1L590.2 2469.1L584 2480.1Z" fill="#0000FF"/>
<path d="M618.3 2465.3L630.7 2465.3L624.5 2476.3Z" fill="#0000FF"/>
<path d="M589.4 2476.8L601.7 2476.8L595.6 2487.8Z" fill="#0000FF"/>
<path d="M606.8 2473.7L619.1 2473.7L612.9 2484.7Z" fill="#0000FF"/>
<line x1="604.1" y1="2457.2" x2="604.1" y2="2484.2" stroke="#1a1a1a" stroke-width="2.7" stroke-linecap="butt"/>
<line x1="591.1" y1="2457.2" x2="617.1" y2="2457.2" stroke="#1a1a1a" stroke-width="2.7" stroke-linecap="butt"/>
<line x1="761" y1="2486.5" x2="1173.5" y2="2486.5" stroke="#000" stroke-width="3.2" stroke-linecap="butt"/>
<line x1="769.1" y1="2261" x2="769.1" y2="2532.8" stroke="#000" stroke-width="3.1" stroke-linecap="butt"/>
<line x1="761" y1="2531.2" x2="1173.5" y2="2531.2" stroke="#000" stroke-width="3.1" stroke-linecap="butt"/>
<line x1="760.6" y1="2262.5" x2="769.1" y2="2262.5" stroke="#000" stroke-width="3.1" stroke-linecap="butt"/>
<text x="755.7" y="2269.3" font-size="20.5" text-anchor="end" fill="#000" font-weight="700" textLength="31.5" lengthAdjust="spacingAndGlyphs" stroke-width="0.3">100</text>
<line x1="760.6" y1="2307.6" x2="769.1" y2="2307.6" stroke="#000" stroke-width="3.1" stroke-linecap="butt"/>
<text x="755.7" y="2314.4" font-size="20.5" text-anchor="end" fill="#000" font-weight="700" textLength="21" lengthAdjust="spacingAndGlyphs" stroke-width="0.3">80</text>
<line x1="760.6" y1="2352.4" x2="769.1" y2="2352.4" stroke="#000" stroke-width="3.1" stroke-linecap="butt"/>
<text x="755.7" y="2359.1" font-size="20.5" text-anchor="end" fill="#000" font-weight="700" textLength="21" lengthAdjust="spacingAndGlyphs" stroke-width="0.3">60</text>
<line x1="760.6" y1="2397.1" x2="769.1" y2="2397.1" stroke="#000" stroke-width="3.1" stroke-linecap="butt"/>
<text x="755.7" y="2403.8" font-size="20.5" text-anchor="end" fill="#000" font-weight="700" textLength="21" lengthAdjust="spacingAndGlyphs" stroke-width="0.3">40</text>
<line x1="760.6" y1="2441.8" x2="769.1" y2="2441.8" stroke="#000" stroke-width="3.1" stroke-linecap="butt"/>
<text x="755.7" y="2448.5" font-size="20.5" text-anchor="end" fill="#000" font-weight="700" textLength="21" lengthAdjust="spacingAndGlyphs" stroke-width="0.3">20</text>
<line x1="760.6" y1="2486.5" x2="769.1" y2="2486.5" stroke="#000" stroke-width="3.1" stroke-linecap="butt"/>
<text x="755.7" y="2493.2" font-size="20.5" text-anchor="end" fill="#000" font-weight="700" textLength="10.5" lengthAdjust="spacingAndGlyphs" stroke-width="0.3">0</text>
<line x1="760.6" y1="2531.2" x2="769.1" y2="2531.2" stroke="#000" stroke-width="3.1" stroke-linecap="butt"/>
<text x="755.7" y="2538" font-size="20.5" text-anchor="end" fill="#000" font-weight="700" textLength="27.3" lengthAdjust="spacingAndGlyphs" stroke-width="0.3">-20</text>
<line x1="810.3" y1="2531.2" x2="810.3" y2="2539.7" stroke="#000" stroke-width="3.1" stroke-linecap="butt"/>
<text x="808.8" y="2560.6" font-size="19.5" text-anchor="middle" fill="#000" font-weight="700" textLength="50.6" lengthAdjust="spacingAndGlyphs" stroke-width="0.3">ALFQ</text>
<line x1="890.5" y1="2531.2" x2="890.5" y2="2539.7" stroke="#000" stroke-width="3.1" stroke-linecap="butt"/>
<text x="890.5" y="2560.6" font-size="19.5" text-anchor="middle" fill="#000" font-weight="700" textLength="10.3" lengthAdjust="spacingAndGlyphs" stroke-width="0.3">3</text>
<line x1="971.5" y1="2531.2" x2="971.5" y2="2539.7" stroke="#000" stroke-width="3.1" stroke-linecap="butt"/>
<text x="971.5" y="2560.6" font-size="19.5" text-anchor="middle" fill="#000" font-weight="700" textLength="20.7" lengthAdjust="spacingAndGlyphs" stroke-width="0.3">10</text>
<line x1="1052.4" y1="2531.2" x2="1052.4" y2="2539.7" stroke="#000" stroke-width="3.1" stroke-linecap="butt"/>
<text x="1052.4" y="2560.6" font-size="19.5" text-anchor="middle" fill="#000" font-weight="700" textLength="10.3" lengthAdjust="spacingAndGlyphs" stroke-width="0.3">3</text>
<line x1="1133.4" y1="2531.2" x2="1133.4" y2="2539.7" stroke="#000" stroke-width="3.1" stroke-linecap="butt"/>
<text x="1133.4" y="2560.6" font-size="19.5" text-anchor="middle" fill="#000" font-weight="700" textLength="20.7" lengthAdjust="spacingAndGlyphs" stroke-width="0.3">10</text>
<line x1="863.5" y1="2567.8" x2="1008.9" y2="2567.8" stroke="#222" stroke-width="2.6" stroke-linecap="butt"/>
<line x1="1027.4" y1="2567.8" x2="1173.5" y2="2567.8" stroke="#222" stroke-width="2.6" stroke-linecap="butt"/>
<text x="938.3" y="2598.7" font-size="20" text-anchor="middle" fill="#000" textLength="78.5" lengthAdjust="spacingAndGlyphs" stroke-width="0.4">+ALFQ</text>
<text x="1094.4" y="2596" font-size="20" text-anchor="middle" fill="#000" textLength="78.5" lengthAdjust="spacingAndGlyphs" stroke-width="0.4">−ALFQ</text>
<text x="971.3" y="2621" font-size="19.5" text-anchor="middle" fill="#000" font-weight="700" textLength="247.1" lengthAdjust="spacingAndGlyphs" stroke-width="0.3">Immunization dose (<tspan font-family='"Liberation Serif", serif'>μ</tspan>g)</text>
<text x="712.2" y="2396.1" font-size="19.8" text-anchor="middle" fill="#000" font-weight="700" textLength="330.4" lengthAdjust="spacingAndGlyphs" transform="rotate(-90 712.2 2396.1)" stroke-width="0.3">KC/GRO concentration (pg/mL)</text>
<text x="971.5" y="2229.3" font-size="23.5" text-anchor="middle" fill="#000" font-weight="700" textLength="101" lengthAdjust="spacingAndGlyphs" stroke-width="0.4">KC/GRO</text>
<path d="M864.3 2486.5V2458.9H917.1V2486.5" fill="none" stroke="#007652" stroke-width="4.8" stroke-linejoin="miter"/>
<path d="M945.2 2486.5V2444.3H998.1V2486.5" fill="none" stroke="#00DA92" stroke-width="4.8" stroke-linejoin="miter"/>
<path d="M1025.6 2486.5V2408.2H1078.9V2486.5" fill="none" stroke="#00008F" stroke-width="3.6" stroke-linejoin="miter"/>
<path d="M1106.5 2486.5V2409.3H1159.8V2486.5" fill="none" stroke="#0000FF" stroke-width="3.6" stroke-linejoin="miter"/>
<path d="M783.4 2486.5V2480.9H837.3V2486.5" fill="none" stroke="#B2B2B6" stroke-width="2.6" stroke-linejoin="miter"/>
<line x1="810.3" y1="2469.9" x2="810.3" y2="2491.9" stroke="#B2B2B6" stroke-width="2.2" stroke-linecap="butt"/>
<line x1="799.3" y1="2469.9" x2="821.3" y2="2469.9" stroke="#B2B2B6" stroke-width="2.2" stroke-linecap="butt"/>
<line x1="799.3" y1="2491.9" x2="821.3" y2="2491.9" stroke="#B2B2B6" stroke-width="2.2" stroke-linecap="butt"/>
<path d="M805 2460.3L810.3 2454.9L815.7 2460.3L810.3 2465.7Z" fill="#B2B2B6"/>
<path d="M805 2505.4L810.3 2500L815.7 2505.4L810.3 2510.8Z" fill="#B2B2B6"/>
<path d="M797.3 2472.6L802.6 2467.3L808 2472.6L802.6 2478Z" fill="#B2B2B6"/>
<path d="M812.7 2474.6L818.1 2469.2L823.4 2474.6L818.1 2479.9Z" fill="#B2B2B6"/>
<path d="M785.7 2482.3L791.1 2476.9L796.4 2482.3L791.1 2487.6Z" fill="#B2B2B6"/>
<path d="M805 2484.2L810.3 2478.8L815.7 2484.2L810.3 2489.6Z" fill="#B2B2B6"/>
<path d="M824.2 2482.3L829.6 2476.9L835 2482.3L829.6 2487.6Z" fill="#B2B2B6"/>
<path d="M801.1 2490L806.5 2484.6L811.9 2490L806.5 2495.3Z" fill="#B2B2B6"/>
<circle cx="890.5" cy="2405.2" r="6.2" fill="#007250"/>
<circle cx="890.5" cy="2439.1" r="6.2" fill="#007250"/>
<circle cx="873.9" cy="2454.5" r="6.2" fill="#007250"/>
<circle cx="906.7" cy="2456" r="6.2" fill="#007250"/>
<circle cx="883.6" cy="2464.9" r="6.2" fill="#007250"/>
<circle cx="899" cy="2463" r="6.2" fill="#007250"/>
<circle cx="875.9" cy="2472.6" r="6.2" fill="#007250"/>
<circle cx="891.3" cy="2474.6" r="6.2" fill="#007250"/>
<circle cx="904.8" cy="2469.9" r="6.2" fill="#007250"/>
<circle cx="883.6" cy="2476.5" r="6.2" fill="#007250"/>
<line x1="890.5" y1="2436" x2="890.5" y2="2481.5" stroke="#1a1a1a" stroke-width="2.7" stroke-linecap="butt"/>
<line x1="877.5" y1="2436" x2="903.5" y2="2436" stroke="#1a1a1a" stroke-width="2.7" stroke-linecap="butt"/>
<line x1="877.5" y1="2481.5" x2="903.5" y2="2481.5" stroke="#1a1a1a" stroke-width="2.7" stroke-linecap="butt"/>
<rect x="965.5" y="2327.8" width="12" height="12" fill="#00D68E"/>
<rect x="965.5" y="2382.6" width="12" height="12" fill="#00D68E"/>
<rect x="965.5" y="2403.8" width="12" height="12" fill="#00D68E"/>
<rect x="956.6" y="2454.3" width="12" height="12" fill="#00D68E"/>
<rect x="974" y="2454.3" width="12" height="12" fill="#00D68E"/>
<rect x="947" y="2464.7" width="12" height="12" fill="#00D68E"/>
<rect x="983.6" y="2466.6" width="12" height="12" fill="#00D68E"/>
<rect x="958.5" y="2472.4" width="12" height="12" fill="#00D68E"/>
<rect x="974" y="2474.3" width="12" height="12" fill="#00D68E"/>
<rect x="965.5" y="2478.2" width="12" height="12" fill="#00D68E"/>
<line x1="971.5" y1="2393.6" x2="971.5" y2="2493.8" stroke="#1a1a1a" stroke-width="2.7" stroke-linecap="butt"/>
<line x1="958.5" y1="2393.6" x2="984.5" y2="2393.6" stroke="#1a1a1a" stroke-width="2.7" stroke-linecap="butt"/>
<line x1="958.5" y1="2493.8" x2="984.5" y2="2493.8" stroke="#1a1a1a" stroke-width="2.7" stroke-linecap="butt"/>
<path d="M1046.3 2312.7L1058.6 2312.7L1052.4 2301.7Z" fill="#00008F"/>
<path d="M1046.3 2407.9L1058.6 2407.9L1052.4 2396.9Z" fill="#00008F"/>
<path d="M1046.3 2436.1L1058.6 2436.1L1052.4 2425.1Z" fill="#00008F"/>
<path d="M1054.7 2452.2L1067.1 2452.2L1060.9 2441.2Z" fill="#00008F"/>
<path d="M1037.4 2459.2L1049.7 2459.2L1043.6 2448.2Z" fill="#00008F"/>
<line x1="1052.4" y1="2347.3" x2="1052.4" y2="2468.8" stroke="#1a1a1a" stroke-width="2.7" stroke-linecap="butt"/>
<line x1="1039.4" y1="2347.3" x2="1065.4" y2="2347.3" stroke="#1a1a1a" stroke-width="2.7" stroke-linecap="butt"/>
<line x1="1039.4" y1="2468.8" x2="1065.4" y2="2468.8" stroke="#1a1a1a" stroke-width="2.7" stroke-linecap="butt"/>
<path d="M1127.2 2328L1139.5 2328L1133.4 2339Z" fill="#0000FF"/>
<path d="M1127.2 2370.8L1139.5 2370.8L1133.4 2381.8Z" fill="#0000FF"/>
<path d="M1127.2 2416.7L1139.5 2416.7L1133.4 2427.7Z" fill="#0000FF"/>
<path d="M1135.7 2442.9L1148 2442.9L1141.9 2453.9Z" fill="#0000FF"/>
<path d="M1119.1 2454.5L1131.4 2454.5L1125.3 2465.5Z" fill="#0000FF"/>
<line x1="1133.4" y1="2356.2" x2="1133.4" y2="2461.1" stroke="#1a1a1a" stroke-width="2.7" stroke-linecap="butt"/>
<line x1="1120.4" y1="2356.2" x2="1146.4" y2="2356.2" stroke="#1a1a1a" stroke-width="2.7" stroke-linecap="butt"/>
<line x1="1120.4" y1="2461.1" x2="1146.4" y2="2461.1" stroke="#1a1a1a" stroke-width="2.7" stroke-linecap="butt"/>
<line x1="1288.7" y1="2463.4" x2="1696.1" y2="2463.4" stroke="#1a1a1a" stroke-width="2.2" stroke-linecap="butt"/>
<line x1="1288.7" y1="2259.8" x2="1288.7" y2="2532" stroke="#000" stroke-width="3.1" stroke-linecap="butt"/>
<line x1="1281" y1="2530.4" x2="1696.1" y2="2530.4" stroke="#000" stroke-width="3.1" stroke-linecap="butt"/>
<line x1="1280.2" y1="2261.4" x2="1288.7" y2="2261.4" stroke="#000" stroke-width="3.1" stroke-linecap="butt"/>
<text x="1276.4" y="2268.1" font-size="20.5" text-anchor="end" fill="#000" font-weight="700" textLength="10.5" lengthAdjust="spacingAndGlyphs" stroke-width="0.3">6</text>
<line x1="1280.2" y1="2328.8" x2="1288.7" y2="2328.8" stroke="#000" stroke-width="3.1" stroke-linecap="butt"/>
<text x="1276.4" y="2335.6" font-size="20.5" text-anchor="end" fill="#000" font-weight="700" textLength="10.5" lengthAdjust="spacingAndGlyphs" stroke-width="0.3">4</text>
<line x1="1280.2" y1="2396.3" x2="1288.7" y2="2396.3" stroke="#000" stroke-width="3.1" stroke-linecap="butt"/>
<text x="1276.4" y="2403" font-size="20.5" text-anchor="end" fill="#000" font-weight="700" textLength="10.5" lengthAdjust="spacingAndGlyphs" stroke-width="0.3">2</text>
<line x1="1280.2" y1="2463.4" x2="1288.7" y2="2463.4" stroke="#000" stroke-width="3.1" stroke-linecap="butt"/>
<text x="1276.4" y="2470.1" font-size="20.5" text-anchor="end" fill="#000" font-weight="700" textLength="10.5" lengthAdjust="spacingAndGlyphs" stroke-width="0.3">0</text>
<line x1="1280.2" y1="2530.4" x2="1288.7" y2="2530.4" stroke="#000" stroke-width="3.1" stroke-linecap="butt"/>
<text x="1276.4" y="2537.2" font-size="20.5" text-anchor="end" fill="#000" font-weight="700" textLength="16.8" lengthAdjust="spacingAndGlyphs" stroke-width="0.3">-2</text>
<line x1="1329.9" y1="2530.4" x2="1329.9" y2="2538.9" stroke="#000" stroke-width="3.1" stroke-linecap="butt"/>
<text x="1328.4" y="2560.6" font-size="19.5" text-anchor="middle" fill="#000" font-weight="700" textLength="50.6" lengthAdjust="spacingAndGlyphs" stroke-width="0.3">ALFQ</text>
<line x1="1410.9" y1="2530.4" x2="1410.9" y2="2538.9" stroke="#000" stroke-width="3.1" stroke-linecap="butt"/>
<text x="1410.9" y="2560.6" font-size="19.5" text-anchor="middle" fill="#000" font-weight="700" textLength="10.3" lengthAdjust="spacingAndGlyphs" stroke-width="0.3">3</text>
<line x1="1491.8" y1="2530.4" x2="1491.8" y2="2538.9" stroke="#000" stroke-width="3.1" stroke-linecap="butt"/>
<text x="1491.8" y="2560.6" font-size="19.5" text-anchor="middle" fill="#000" font-weight="700" textLength="20.7" lengthAdjust="spacingAndGlyphs" stroke-width="0.3">10</text>
<line x1="1572.8" y1="2530.4" x2="1572.8" y2="2538.9" stroke="#000" stroke-width="3.1" stroke-linecap="butt"/>
<text x="1572.8" y="2560.6" font-size="19.5" text-anchor="middle" fill="#000" font-weight="700" textLength="10.3" lengthAdjust="spacingAndGlyphs" stroke-width="0.3">3</text>
<line x1="1654.1" y1="2530.4" x2="1654.1" y2="2538.9" stroke="#000" stroke-width="3.1" stroke-linecap="butt"/>
<text x="1654.1" y="2560.6" font-size="19.5" text-anchor="middle" fill="#000" font-weight="700" textLength="20.7" lengthAdjust="spacingAndGlyphs" stroke-width="0.3">10</text>
<line x1="1385" y1="2569" x2="1530.8" y2="2569" stroke="#222" stroke-width="2.6" stroke-linecap="butt"/>
<line x1="1549.6" y1="2569" x2="1696.1" y2="2569" stroke="#222" stroke-width="2.6" stroke-linecap="butt"/>
<text x="1457.5" y="2598.7" font-size="20" text-anchor="middle" fill="#000" textLength="78.5" lengthAdjust="spacingAndGlyphs" stroke-width="0.4">+ALFQ</text>
<text x="1622.1" y="2596" font-size="20" text-anchor="middle" fill="#000" textLength="78.5" lengthAdjust="spacingAndGlyphs" stroke-width="0.4">−ALFQ</text>
<text x="1492.4" y="2621" font-size="19.5" text-anchor="middle" fill="#000" font-weight="700" textLength="247.9" lengthAdjust="spacingAndGlyphs" stroke-width="0.3">Immunization dose (<tspan font-family='"Liberation Serif", serif'>μ</tspan>g)</text>
<text x="1245.7" y="2395.5" font-size="19.8" text-anchor="middle" fill="#000" font-weight="700" textLength="296.8" lengthAdjust="spacingAndGlyphs" transform="rotate(-90 1245.7 2395.5)" stroke-width="0.3">IL-1<tspan font-family='"Liberation Serif", serif'>β</tspan> concentration (pg/mL)</text>
<text x="1491" y="2229.3" font-size="23.5" text-anchor="middle" fill="#000" font-weight="700" textLength="59" lengthAdjust="spacingAndGlyphs" stroke-width="0.4">IL-1<tspan font-family='"Liberation Serif", serif'>β</tspan></text>
<path d="M1384.2 2463.4V2417.3H1437.1V2463.4" fill="none" stroke="#007652" stroke-width="4.8" stroke-linejoin="miter"/>
<path d="M1466 2463.4V2439.6H1518.8V2463.4" fill="none" stroke="#00DA92" stroke-width="4.8" stroke-linejoin="miter"/>
<line x1="1545" y1="2461.1" x2="1600.9" y2="2461.1" stroke="#00008F" stroke-width="4.5" stroke-linecap="butt"/>
<path d="M1627.7 2463.4V2456.1H1680.9V2463.4" fill="none" stroke="#0000FF" stroke-width="3" stroke-linejoin="miter"/>
<line x1="1301" y1="2464.1" x2="1358.1" y2="2464.1" stroke="#B2B2B6" stroke-width="4" stroke-linecap="butt"/>
<line x1="1329.9" y1="2464.1" x2="1329.9" y2="2473.8" stroke="#B2B2B6" stroke-width="2.2" stroke-linecap="butt"/>
<line x1="1318.9" y1="2473.8" x2="1340.9" y2="2473.8" stroke="#B2B2B6" stroke-width="2.2" stroke-linecap="butt"/>
<path d="M1306.3 2462.2L1311.7 2456.8L1317.1 2462.2L1311.7 2467.6Z" fill="#B2B2B6"/>
<path d="M1311.5 2462.2L1316.9 2456.8L1322.3 2462.2L1316.9 2467.6Z" fill="#B2B2B6"/>
<path d="M1316.7 2462.2L1322.1 2456.8L1327.5 2462.2L1322.1 2467.6Z" fill="#B2B2B6"/>
<path d="M1321.9 2462.2L1327.3 2456.8L1332.7 2462.2L1327.3 2467.6Z" fill="#B2B2B6"/>
<path d="M1327.1 2462.2L1332.5 2456.8L1337.9 2462.2L1332.5 2467.6Z" fill="#B2B2B6"/>
<path d="M1332.3 2462.2L1337.7 2456.8L1343.1 2462.2L1337.7 2467.6Z" fill="#B2B2B6"/>
<path d="M1337.5 2462.2L1342.9 2456.8L1348.3 2462.2L1342.9 2467.6Z" fill="#B2B2B6"/>
<path d="M1342.7 2462.2L1348.1 2456.8L1353.5 2462.2L1348.1 2467.6Z" fill="#B2B2B6"/>
<path d="M1324.5 2487.3L1329.9 2481.9L1335.3 2487.3L1329.9 2492.6Z" fill="#B2B2B6"/>
<circle cx="1411.2" cy="2313.8" r="6.2" fill="#007250"/>
<circle cx="1411.2" cy="2341.6" r="6.2" fill="#007250"/>
<circle cx="1411.2" cy="2396.3" r="6.2" fill="#007250"/>
<circle cx="1402.4" cy="2409" r="6.2" fill="#007250"/>
<circle cx="1419.7" cy="2425.2" r="6.2" fill="#007250"/>
<circle cx="1391.6" cy="2448.3" r="6.2" fill="#007250"/>
<circle cx="1430.1" cy="2450.3" r="6.2" fill="#007250"/>
<circle cx="1400.5" cy="2458" r="6.2" fill="#007250"/>
<circle cx="1419.7" cy="2462.2" r="6.2" fill="#007250"/>
<circle cx="1410.1" cy="2465.7" r="6.2" fill="#007250"/>
<line x1="1410.9" y1="2363.5" x2="1410.9" y2="2469.2" stroke="#1a1a1a" stroke-width="2.7" stroke-linecap="butt"/>
<line x1="1397.9" y1="2363.5" x2="1423.9" y2="2363.5" stroke="#1a1a1a" stroke-width="2.7" stroke-linecap="butt"/>
<line x1="1397.9" y1="2469.2" x2="1423.9" y2="2469.2" stroke="#1a1a1a" stroke-width="2.7" stroke-linecap="butt"/>
<rect x="1478.1" y="2381.8" width="12" height="12" fill="#00D68E"/>
<rect x="1494.7" y="2386.4" width="12" height="12" fill="#00D68E"/>
<rect x="1485.8" y="2416.5" width="12" height="12" fill="#00D68E"/>
<rect x="1478.1" y="2431.9" width="12" height="12" fill="#00D68E"/>
<rect x="1494.7" y="2437.7" width="12" height="12" fill="#00D68E"/>
<rect x="1467.7" y="2441.6" width="12" height="12" fill="#00D68E"/>
<rect x="1506.2" y="2443.5" width="12" height="12" fill="#00D68E"/>
<rect x="1478.1" y="2455.1" width="12" height="12" fill="#00D68E"/>
<rect x="1494.7" y="2457" width="12" height="12" fill="#00D68E"/>
<rect x="1485.8" y="2460.8" width="12" height="12" fill="#00D68E"/>
<line x1="1491.8" y1="2409.8" x2="1491.8" y2="2466.8" stroke="#1a1a1a" stroke-width="2.7" stroke-linecap="butt"/>
<line x1="1478.8" y1="2409.8" x2="1504.8" y2="2409.8" stroke="#1a1a1a" stroke-width="2.7" stroke-linecap="butt"/>
<line x1="1478.8" y1="2466.8" x2="1504.8" y2="2466.8" stroke="#1a1a1a" stroke-width="2.7" stroke-linecap="butt"/>
<path d="M1583.2 2448.4L1595.5 2448.4L1589.3 2437.4Z" fill="#00008F"/>
<path d="M1548.5 2465.7L1560.8 2465.7L1554.7 2454.7Z" fill="#00008F"/>
<path d="M1566.6 2466.9L1578.9 2466.9L1572.8 2455.9Z" fill="#00008F"/>
<path d="M1579.3 2465.7L1591.7 2465.7L1585.5 2454.7Z" fill="#00008F"/>
<path d="M1558.9 2483.9L1571.2 2483.9L1565.1 2472.9Z" fill="#00008F"/>
<line x1="1572.8" y1="2448.3" x2="1572.8" y2="2471.5" stroke="#1a1a1a" stroke-width="2.7" stroke-linecap="butt"/>
<line x1="1561.8" y1="2448.3" x2="1583.8" y2="2448.3" stroke="#1a1a1a" stroke-width="2.7" stroke-linecap="butt"/>
<line x1="1561.8" y1="2471.5" x2="1583.8" y2="2471.5" stroke="#1a1a1a" stroke-width="2.7" stroke-linecap="butt"/>
<path d="M1648.7 2426.3L1661 2426.3L1654.9 2437.3Z" fill="#0000FF"/>
<path d="M1629.4 2455.6L1641.8 2455.6L1635.6 2466.6Z" fill="#0000FF"/>
<path d="M1667.2 2455.6L1679.5 2455.6L1673.4 2466.6Z" fill="#0000FF"/>
<path d="M1647.9 2458.3L1660.3 2458.3L1654.1 2469.3Z" fill="#0000FF"/>
<path d="M1641 2469.1L1653.3 2469.1L1647.2 2480.1Z" fill="#0000FF"/>
<line x1="1654.1" y1="2441.8" x2="1654.1" y2="2471.5" stroke="#1a1a1a" stroke-width="2.7" stroke-linecap="butt"/>
<line x1="1643.1" y1="2441.8" x2="1665.1" y2="2441.8" stroke="#1a1a1a" stroke-width="2.7" stroke-linecap="butt"/>
<line x1="1643.1" y1="2471.5" x2="1665.1" y2="2471.5" stroke="#1a1a1a" stroke-width="2.7" stroke-linecap="butt"/>
<line x1="1804.3" y1="2476.7" x2="2217" y2="2476.7" stroke="#000" stroke-width="4" stroke-linecap="butt"/>
<line x1="1811.9" y1="2260.4" x2="1811.9" y2="2531.6" stroke="#000" stroke-width="3.1" stroke-linecap="butt"/>
<line x1="1804.3" y1="2530" x2="2217" y2="2530" stroke="#000" stroke-width="3.1" stroke-linecap="butt"/>
<line x1="1803.4" y1="2262" x2="1811.9" y2="2262" stroke="#000" stroke-width="3.1" stroke-linecap="butt"/>
<text x="1799.6" y="2268.7" font-size="20.5" text-anchor="end" fill="#000" font-weight="700" textLength="31.5" lengthAdjust="spacingAndGlyphs" stroke-width="0.3">800</text>
<line x1="1803.4" y1="2315.9" x2="1811.9" y2="2315.9" stroke="#000" stroke-width="3.1" stroke-linecap="butt"/>
<text x="1799.6" y="2322.7" font-size="20.5" text-anchor="end" fill="#000" font-weight="700" textLength="31.5" lengthAdjust="spacingAndGlyphs" stroke-width="0.3">600</text>
<line x1="1803.4" y1="2369.3" x2="1811.9" y2="2369.3" stroke="#000" stroke-width="3.1" stroke-linecap="butt"/>
<text x="1799.6" y="2376.1" font-size="20.5" text-anchor="end" fill="#000" font-weight="700" textLength="31.5" lengthAdjust="spacingAndGlyphs" stroke-width="0.3">400</text>
<line x1="1803.4" y1="2423.3" x2="1811.9" y2="2423.3" stroke="#000" stroke-width="3.1" stroke-linecap="butt"/>
<text x="1799.6" y="2430" font-size="20.5" text-anchor="end" fill="#000" font-weight="700" textLength="31.5" lengthAdjust="spacingAndGlyphs" stroke-width="0.3">200</text>
<line x1="1803.4" y1="2476.7" x2="1811.9" y2="2476.7" stroke="#000" stroke-width="3.1" stroke-linecap="butt"/>
<text x="1799.6" y="2483.4" font-size="20.5" text-anchor="end" fill="#000" font-weight="700" textLength="10.5" lengthAdjust="spacingAndGlyphs" stroke-width="0.3">0</text>
<line x1="1803.4" y1="2530" x2="1811.9" y2="2530" stroke="#000" stroke-width="3.1" stroke-linecap="butt"/>
<text x="1799.6" y="2536.8" font-size="20.5" text-anchor="end" fill="#000" font-weight="700" textLength="37.8" lengthAdjust="spacingAndGlyphs" stroke-width="0.3">-200</text>
<line x1="1854" y1="2530" x2="1854" y2="2538.5" stroke="#000" stroke-width="3.1" stroke-linecap="butt"/>
<text x="1852.5" y="2558.9" font-size="19.5" text-anchor="middle" fill="#000" font-weight="700" textLength="50.6" lengthAdjust="spacingAndGlyphs" stroke-width="0.3">ALFQ</text>
<line x1="1934.8" y1="2530" x2="1934.8" y2="2538.5" stroke="#000" stroke-width="3.1" stroke-linecap="butt"/>
<text x="1934.8" y="2558.9" font-size="19.5" text-anchor="middle" fill="#000" font-weight="700" textLength="10.3" lengthAdjust="spacingAndGlyphs" stroke-width="0.3">3</text>
<line x1="2015.7" y1="2530" x2="2015.7" y2="2538.5" stroke="#000" stroke-width="3.1" stroke-linecap="butt"/>
<text x="2015.7" y="2558.9" font-size="19.5" text-anchor="middle" fill="#000" font-weight="700" textLength="20.7" lengthAdjust="spacingAndGlyphs" stroke-width="0.3">10</text>
<line x1="2095.6" y1="2530" x2="2095.6" y2="2538.5" stroke="#000" stroke-width="3.1" stroke-linecap="butt"/>
<text x="2095.6" y="2558.9" font-size="19.5" text-anchor="middle" fill="#000" font-weight="700" textLength="10.3" lengthAdjust="spacingAndGlyphs" stroke-width="0.3">3</text>
<line x1="2176.4" y1="2530" x2="2176.4" y2="2538.5" stroke="#000" stroke-width="3.1" stroke-linecap="butt"/>
<text x="2176.4" y="2558.9" font-size="19.5" text-anchor="middle" fill="#000" font-weight="700" textLength="20.7" lengthAdjust="spacingAndGlyphs" stroke-width="0.3">10</text>
<line x1="1908.9" y1="2567" x2="2053.8" y2="2567" stroke="#222" stroke-width="2.6" stroke-linecap="butt"/>
<line x1="2072.1" y1="2567" x2="2217" y2="2567" stroke="#222" stroke-width="2.6" stroke-linecap="butt"/>
<text x="1976.9" y="2596.5" font-size="20" text-anchor="middle" fill="#000" textLength="78.5" lengthAdjust="spacingAndGlyphs" stroke-width="0.4">+ALFQ</text>
<text x="2142.2" y="2596.5" font-size="20" text-anchor="middle" fill="#000" textLength="78.5" lengthAdjust="spacingAndGlyphs" stroke-width="0.4">−ALFQ</text>
<text x="2014.1" y="2620.9" font-size="19.5" text-anchor="middle" fill="#000" font-weight="700" textLength="245.2" lengthAdjust="spacingAndGlyphs" stroke-width="0.3">Immunization dose (<tspan font-family='"Liberation Serif", serif'>μ</tspan>g)</text>
<text x="1750.9" y="2396.8" font-size="19.8" text-anchor="middle" fill="#000" font-weight="700" textLength="289.7" lengthAdjust="spacingAndGlyphs" transform="rotate(-90 1750.9 2396.8)" stroke-width="0.3">IL-10 concentration (pg/mL)</text>
<text x="2014.1" y="2230.4" font-size="23.5" text-anchor="middle" fill="#000" font-weight="700" textLength="59" lengthAdjust="spacingAndGlyphs" stroke-width="0.4">IL-10</text>
<path d="M1908.7 2476.7V2456.4H1960.4V2476.7" fill="none" stroke="#007652" stroke-width="4.8" stroke-linejoin="miter"/>
<path d="M1988.6 2476.7V2429.6H2041.2V2476.7" fill="none" stroke="#00DA92" stroke-width="4.8" stroke-linejoin="miter"/>
<rect x="1830.8" y="2473.4" width="7.2" height="7.2" fill="#B2B2B6"/>
<rect x="1836.4" y="2473.4" width="7.2" height="7.2" fill="#B2B2B6"/>
<rect x="1842" y="2473.4" width="7.2" height="7.2" fill="#B2B2B6"/>
<rect x="1847.6" y="2473.4" width="7.2" height="7.2" fill="#B2B2B6"/>
<rect x="1853.2" y="2473.4" width="7.2" height="7.2" fill="#B2B2B6"/>
<rect x="1858.8" y="2473.4" width="7.2" height="7.2" fill="#B2B2B6"/>
<rect x="1864.4" y="2473.4" width="7.2" height="7.2" fill="#B2B2B6"/>
<rect x="1870" y="2473.4" width="7.2" height="7.2" fill="#B2B2B6"/>
<circle cx="1918.1" cy="2426.4" r="6.2" fill="#007250"/>
<circle cx="1934.8" cy="2429.4" r="6.2" fill="#007250"/>
<circle cx="1950.7" cy="2426.4" r="6.2" fill="#007250"/>
<circle cx="1926.3" cy="2447.7" r="6.2" fill="#007250"/>
<circle cx="1942.5" cy="2450.8" r="6.2" fill="#007250"/>
<circle cx="1913.5" cy="2469.1" r="6.2" fill="#007250"/>
<circle cx="1925.7" cy="2471.5" r="6.2" fill="#007250"/>
<circle cx="1934.8" cy="2475.2" r="6.2" fill="#007250"/>
<circle cx="1945.5" cy="2473" r="6.2" fill="#007250"/>
<circle cx="1954.7" cy="2469.1" r="6.2" fill="#007250"/>
<line x1="1934.8" y1="2434.3" x2="1934.8" y2="2476.1" stroke="#1a1a1a" stroke-width="2.7" stroke-linecap="butt"/>
<line x1="1921.8" y1="2434.3" x2="1947.8" y2="2434.3" stroke="#1a1a1a" stroke-width="2.7" stroke-linecap="butt"/>
<rect x="2009.7" y="2303.2" width="12" height="12" fill="#00D68E"/>
<rect x="2009.7" y="2341.4" width="12" height="12" fill="#00D68E"/>
<rect x="2024.9" y="2416.7" width="12" height="12" fill="#00D68E"/>
<rect x="1991.4" y="2426.5" width="12" height="12" fill="#00D68E"/>
<rect x="2008.1" y="2430.4" width="12" height="12" fill="#00D68E"/>
<rect x="1988.3" y="2454.8" width="12" height="12" fill="#00D68E"/>
<rect x="2029.5" y="2459.4" width="12" height="12" fill="#00D68E"/>
<rect x="1999" y="2465.5" width="12" height="12" fill="#00D68E"/>
<rect x="2018.8" y="2465.5" width="12" height="12" fill="#00D68E"/>
<rect x="2009.7" y="2470.1" width="12" height="12" fill="#00D68E"/>
<line x1="2015.7" y1="2371.8" x2="2015.7" y2="2485.2" stroke="#1a1a1a" stroke-width="2.7" stroke-linecap="butt"/>
<line x1="2002.7" y1="2371.8" x2="2028.7" y2="2371.8" stroke="#1a1a1a" stroke-width="2.7" stroke-linecap="butt"/>
<line x1="2002.7" y1="2485.2" x2="2028.7" y2="2485.2" stroke="#1a1a1a" stroke-width="2.7" stroke-linecap="butt"/>
<path d="M2070.5 2474.6L2082.8 2474.6L2076.7 2463.6Z" fill="#00008F"/>
<path d="M2069.4 2479.2L2081.7 2479.2L2075.6 2468.2Z" fill="#00008F"/>
<path d="M2077.4 2479.2L2089.7 2479.2L2083.6 2468.2Z" fill="#00008F"/>
<path d="M2085.4 2479.2L2097.7 2479.2L2091.6 2468.2Z" fill="#00008F"/>
<path d="M2093.4 2479.2L2105.7 2479.2L2099.6 2468.2Z" fill="#00008F"/>
<path d="M2101.4 2479.2L2113.7 2479.2L2107.6 2468.2Z" fill="#00008F"/>
<path d="M2109.4 2479.2L2121.7 2479.2L2115.6 2468.2Z" fill="#00008F"/>
<line x1="2078.2" y1="2476.1" x2="2111.7" y2="2476.1" stroke="#111" stroke-width="2.5" stroke-linecap="butt"/>
<path d="M2151.3 2459.2L2163.6 2459.2L2157.5 2470.2Z" fill="#0000FF"/>
<path d="M2155.7 2469.3L2168 2469.3L2161.8 2480.3Z" fill="#0000FF"/>
<path d="M2164.2 2469.3L2176.5 2469.3L2170.3 2480.3Z" fill="#0000FF"/>
<path d="M2172.7 2469.3L2185 2469.3L2178.8 2480.3Z" fill="#0000FF"/>
<path d="M2181.2 2469.3L2193.5 2469.3L2187.3 2480.3Z" fill="#0000FF"/>
<path d="M2189.7 2469.3L2202 2469.3L2195.8 2480.3Z" fill="#0000FF"/>
<line x1="2160.5" y1="2473" x2="2194.1" y2="2473" stroke="#111" stroke-width="2.5" stroke-linecap="butt"/>
</svg></body></html>
